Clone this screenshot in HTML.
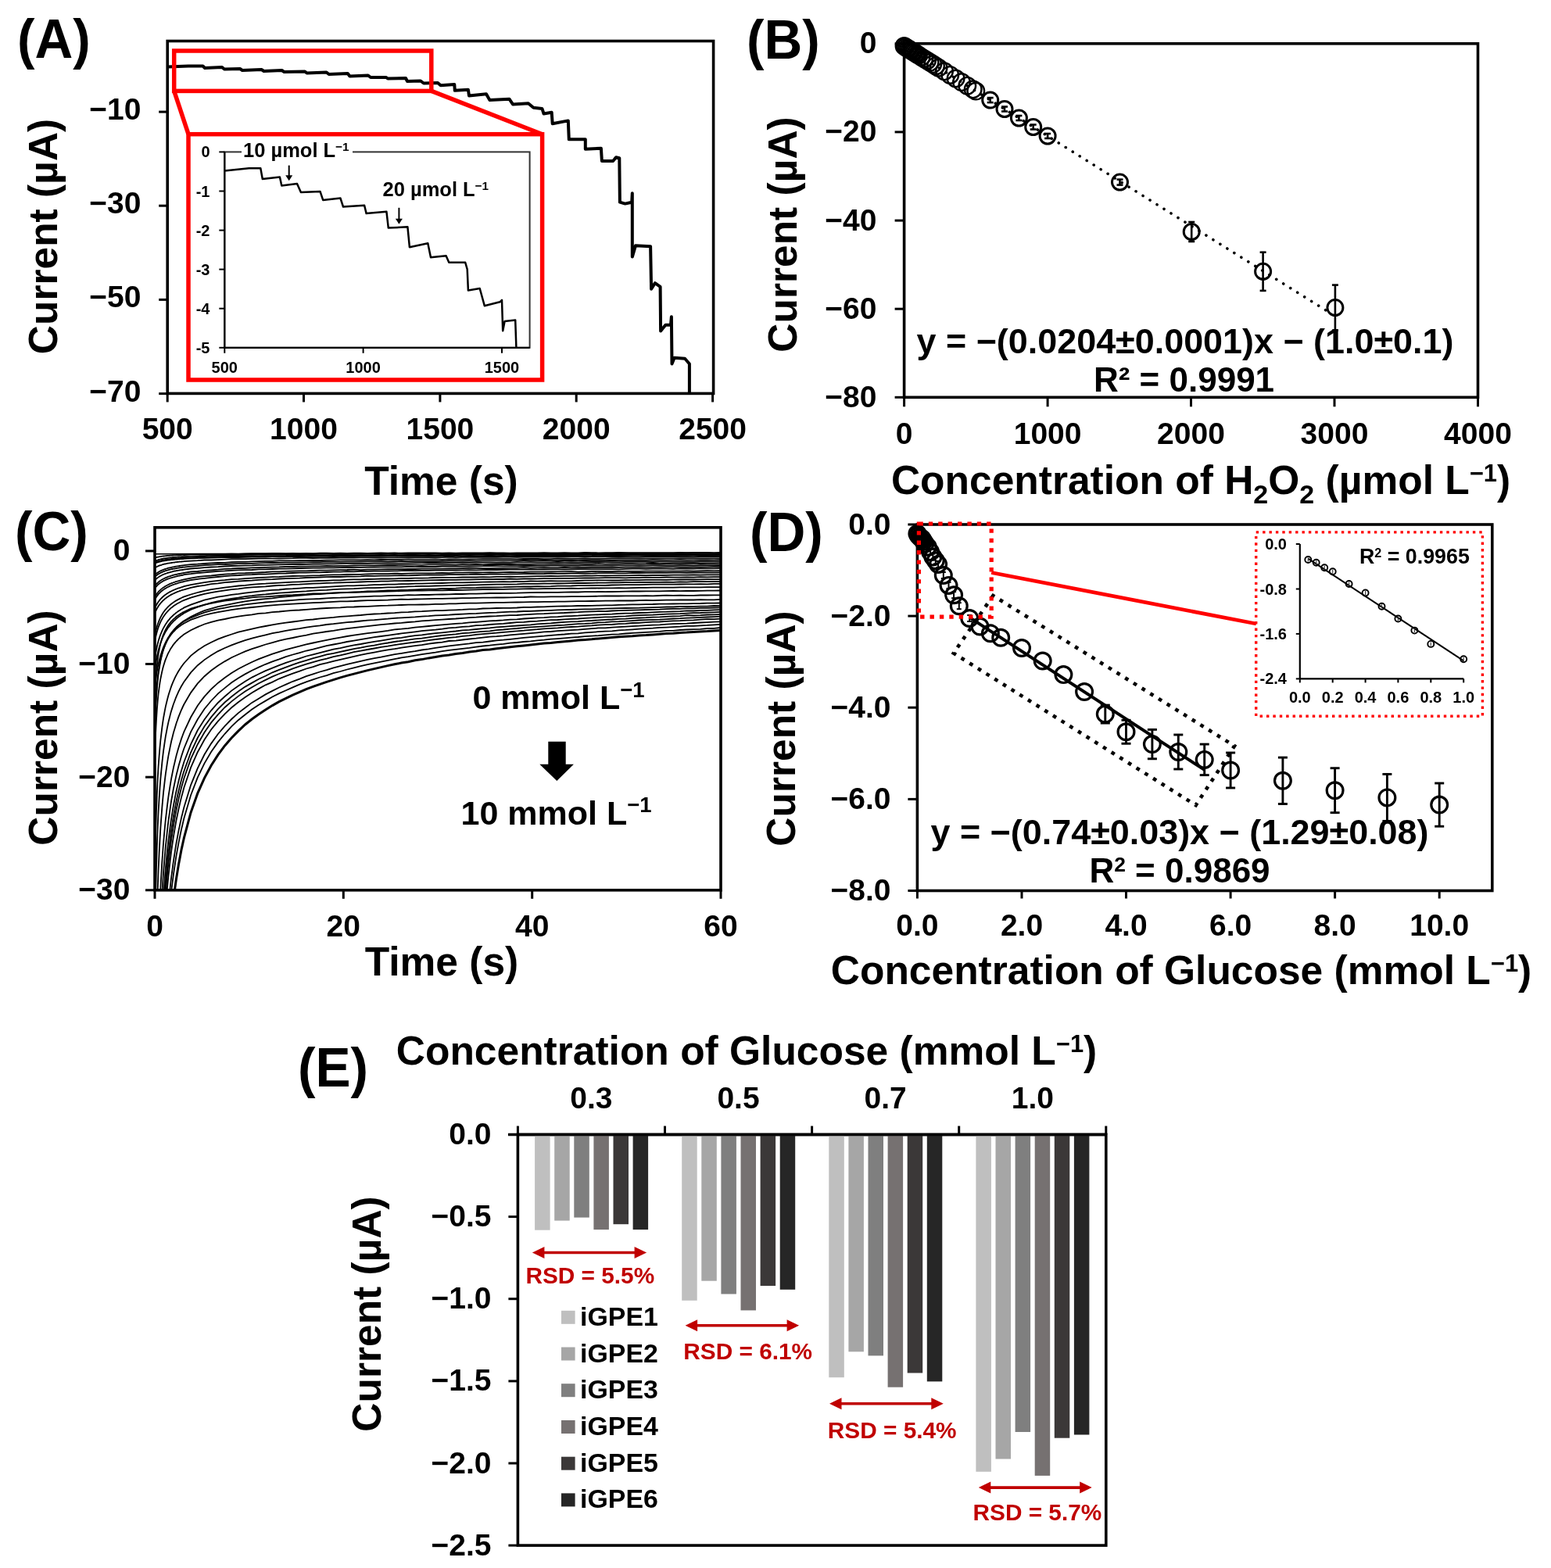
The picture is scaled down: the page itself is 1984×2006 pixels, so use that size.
<!DOCTYPE html>
<html><head><meta charset="utf-8"><title>Figure</title>
<style>html,body{margin:0;padding:0;background:#fff;}svg{display:block;}</style></head>
<body><svg width="1984" height="2006" viewBox="0 0 1984 2006" font-family="Liberation Sans, Arial, sans-serif" font-weight="bold">
<rect x="0" y="0" width="1984" height="2006" fill="#fff"/>
<rect x="214.2" y="52.5" width="698.4" height="450.9" fill="none" stroke="#000" stroke-width="3.6" />
<line x1="203.2" y1="143.1" x2="214.2" y2="143.1" stroke="#000" stroke-width="3" />
<text x="180.5" y="153.1" font-size="39" text-anchor="end" fill="#000" >−10</text>
<line x1="203.2" y1="263.2" x2="214.2" y2="263.2" stroke="#000" stroke-width="3" />
<text x="180.5" y="273.2" font-size="39" text-anchor="end" fill="#000" >−30</text>
<line x1="203.2" y1="383.4" x2="214.2" y2="383.4" stroke="#000" stroke-width="3" />
<text x="180.5" y="393.4" font-size="39" text-anchor="end" fill="#000" >−50</text>
<line x1="203.2" y1="503.6" x2="214.2" y2="503.6" stroke="#000" stroke-width="3" />
<text x="180.5" y="513.6" font-size="39" text-anchor="end" fill="#000" >−70</text>
<line x1="214.2" y1="503.4" x2="214.2" y2="514.4" stroke="#000" stroke-width="3" />
<text x="214.2" y="562.2" font-size="39" text-anchor="middle" fill="#000" >500</text>
<line x1="388.5" y1="503.4" x2="388.5" y2="514.4" stroke="#000" stroke-width="3" />
<text x="388.5" y="562.2" font-size="39" text-anchor="middle" fill="#000" >1000</text>
<line x1="562.9" y1="503.4" x2="562.9" y2="514.4" stroke="#000" stroke-width="3" />
<text x="562.9" y="562.2" font-size="39" text-anchor="middle" fill="#000" >1500</text>
<line x1="737.2" y1="503.4" x2="737.2" y2="514.4" stroke="#000" stroke-width="3" />
<text x="737.2" y="562.2" font-size="39" text-anchor="middle" fill="#000" >2000</text>
<line x1="911.6" y1="503.4" x2="911.6" y2="514.4" stroke="#000" stroke-width="3" />
<text x="911.6" y="562.2" font-size="39" text-anchor="middle" fill="#000" >2500</text>
<text x="564.5" y="633.0" font-size="51.5" text-anchor="middle" fill="#000" >Time (s)</text>
<text transform="translate(72.5,302.5) rotate(-90)" x="0" y="0" font-size="51.5" text-anchor="middle">Current (µA)</text>
<text transform="translate(22.0,73.5) scale(0.965,1)" x="0" y="0" font-size="70">(A)</text>
<rect x="1156.6" y="55.8" width="733.9" height="452.5" fill="none" stroke="#000" stroke-width="3.6" />
<line x1="1144.6" y1="55.8" x2="1156.6" y2="55.8" stroke="#000" stroke-width="3" />
<text x="1121.5" y="68.3" font-size="39" text-anchor="end" fill="#000" >0</text>
<line x1="1144.6" y1="168.9" x2="1156.6" y2="168.9" stroke="#000" stroke-width="3" />
<text x="1121.5" y="181.4" font-size="39" text-anchor="end" fill="#000" >−20</text>
<line x1="1144.6" y1="282.1" x2="1156.6" y2="282.1" stroke="#000" stroke-width="3" />
<text x="1121.5" y="294.6" font-size="39" text-anchor="end" fill="#000" >−40</text>
<line x1="1144.6" y1="395.2" x2="1156.6" y2="395.2" stroke="#000" stroke-width="3" />
<text x="1121.5" y="407.7" font-size="39" text-anchor="end" fill="#000" >−60</text>
<line x1="1144.6" y1="508.3" x2="1156.6" y2="508.3" stroke="#000" stroke-width="3" />
<text x="1121.5" y="520.8" font-size="39" text-anchor="end" fill="#000" >−80</text>
<line x1="1156.6" y1="508.3" x2="1156.6" y2="520.3" stroke="#000" stroke-width="3" />
<text x="1156.6" y="568.3" font-size="39" text-anchor="middle" fill="#000" >0</text>
<line x1="1340.1" y1="508.3" x2="1340.1" y2="520.3" stroke="#000" stroke-width="3" />
<text x="1340.1" y="568.3" font-size="39" text-anchor="middle" fill="#000" >1000</text>
<line x1="1523.5" y1="508.3" x2="1523.5" y2="520.3" stroke="#000" stroke-width="3" />
<text x="1523.5" y="568.3" font-size="39" text-anchor="middle" fill="#000" >2000</text>
<line x1="1707.0" y1="508.3" x2="1707.0" y2="520.3" stroke="#000" stroke-width="3" />
<text x="1707.0" y="568.3" font-size="39" text-anchor="middle" fill="#000" >3000</text>
<line x1="1890.5" y1="508.3" x2="1890.5" y2="520.3" stroke="#000" stroke-width="3" />
<text x="1890.5" y="568.3" font-size="39" text-anchor="middle" fill="#000" >4000</text>
<text x="1536.0" y="631.8" font-size="51.5" text-anchor="middle" fill="#000" >Concentration of H<tspan dy="12" font-size="34">2</tspan><tspan dy="-12">O</tspan><tspan dy="12" font-size="34">2</tspan><tspan dy="-12"> (µmol L</tspan><tspan dy="-16.0" font-size="30.9">−1</tspan><tspan dy="16.0">)</tspan></text>
<text transform="translate(1019.0,300.0) rotate(-90)" x="0" y="0" font-size="51.5" text-anchor="middle">Current (µA)</text>
<text transform="translate(955.0,74.5) scale(0.965,1)" x="0" y="0" font-size="70">(B)</text>
<rect x="198.0" y="674.8" width="724.0" height="464.0" fill="none" stroke="#000" stroke-width="3.6" />
<line x1="186.0" y1="704.9" x2="198.0" y2="704.9" stroke="#000" stroke-width="3" />
<text x="166.5" y="717.4" font-size="39" text-anchor="end" fill="#000" >0</text>
<line x1="186.0" y1="849.5" x2="198.0" y2="849.5" stroke="#000" stroke-width="3" />
<text x="166.5" y="862.0" font-size="39" text-anchor="end" fill="#000" >−10</text>
<line x1="186.0" y1="994.2" x2="198.0" y2="994.2" stroke="#000" stroke-width="3" />
<text x="166.5" y="1006.7" font-size="39" text-anchor="end" fill="#000" >−20</text>
<line x1="186.0" y1="1138.8" x2="198.0" y2="1138.8" stroke="#000" stroke-width="3" />
<text x="166.5" y="1151.3" font-size="39" text-anchor="end" fill="#000" >−30</text>
<line x1="198.0" y1="1138.8" x2="198.0" y2="1149.8" stroke="#000" stroke-width="3" />
<text x="198.0" y="1197.5" font-size="39" text-anchor="middle" fill="#000" >0</text>
<line x1="439.3" y1="1138.8" x2="439.3" y2="1149.8" stroke="#000" stroke-width="3" />
<text x="439.3" y="1197.5" font-size="39" text-anchor="middle" fill="#000" >20</text>
<line x1="680.7" y1="1138.8" x2="680.7" y2="1149.8" stroke="#000" stroke-width="3" />
<text x="680.7" y="1197.5" font-size="39" text-anchor="middle" fill="#000" >40</text>
<line x1="922.0" y1="1138.8" x2="922.0" y2="1149.8" stroke="#000" stroke-width="3" />
<text x="922.0" y="1197.5" font-size="39" text-anchor="middle" fill="#000" >60</text>
<text x="565.0" y="1248.2" font-size="51.5" text-anchor="middle" fill="#000" >Time (s)</text>
<text transform="translate(73.0,931.0) rotate(-90)" x="0" y="0" font-size="51.5" text-anchor="middle">Current (µA)</text>
<text transform="translate(19.0,704.0) scale(0.965,1)" x="0" y="0" font-size="70">(C)</text>
<rect x="1173.4" y="671.0" width="735.4" height="468.5" fill="none" stroke="#000" stroke-width="3.6" />
<line x1="1161.4" y1="671.0" x2="1173.4" y2="671.0" stroke="#000" stroke-width="3" />
<text x="1139.5" y="683.5" font-size="39" text-anchor="end" fill="#000" >0.0</text>
<line x1="1161.4" y1="788.1" x2="1173.4" y2="788.1" stroke="#000" stroke-width="3" />
<text x="1139.5" y="800.6" font-size="39" text-anchor="end" fill="#000" >−2.0</text>
<line x1="1161.4" y1="905.2" x2="1173.4" y2="905.2" stroke="#000" stroke-width="3" />
<text x="1139.5" y="917.8" font-size="39" text-anchor="end" fill="#000" >−4.0</text>
<line x1="1161.4" y1="1022.4" x2="1173.4" y2="1022.4" stroke="#000" stroke-width="3" />
<text x="1139.5" y="1034.9" font-size="39" text-anchor="end" fill="#000" >−6.0</text>
<line x1="1161.4" y1="1139.5" x2="1173.4" y2="1139.5" stroke="#000" stroke-width="3" />
<text x="1139.5" y="1152.0" font-size="39" text-anchor="end" fill="#000" >−8.0</text>
<line x1="1173.4" y1="1139.5" x2="1173.4" y2="1149.5" stroke="#000" stroke-width="3" />
<text x="1173.4" y="1196.5" font-size="39" text-anchor="middle" fill="#000" >0.0</text>
<line x1="1307.0" y1="1139.5" x2="1307.0" y2="1149.5" stroke="#000" stroke-width="3" />
<text x="1307.0" y="1196.5" font-size="39" text-anchor="middle" fill="#000" >2.0</text>
<line x1="1440.5" y1="1139.5" x2="1440.5" y2="1149.5" stroke="#000" stroke-width="3" />
<text x="1440.5" y="1196.5" font-size="39" text-anchor="middle" fill="#000" >4.0</text>
<line x1="1574.1" y1="1139.5" x2="1574.1" y2="1149.5" stroke="#000" stroke-width="3" />
<text x="1574.1" y="1196.5" font-size="39" text-anchor="middle" fill="#000" >6.0</text>
<line x1="1707.6" y1="1139.5" x2="1707.6" y2="1149.5" stroke="#000" stroke-width="3" />
<text x="1707.6" y="1196.5" font-size="39" text-anchor="middle" fill="#000" >8.0</text>
<line x1="1841.2" y1="1139.5" x2="1841.2" y2="1149.5" stroke="#000" stroke-width="3" />
<text x="1841.2" y="1196.5" font-size="39" text-anchor="middle" fill="#000" >10.0</text>
<text x="1511.0" y="1259.0" font-size="51.5" text-anchor="middle" fill="#000" >Concentration of Glucose (mmol L<tspan dy="-16.0" font-size="30.9">−1</tspan><tspan dy="16.0">)</tspan></text>
<text transform="translate(1017.0,932.0) rotate(-90)" x="0" y="0" font-size="51.5" text-anchor="middle">Current (µA)</text>
<text transform="translate(959.0,705.0) scale(0.965,1)" x="0" y="0" font-size="70">(D)</text>
<rect x="662.4" y="1451.5" width="752.4" height="525.6" fill="none" stroke="#000" stroke-width="3.6" />
<line x1="650.4" y1="1451.5" x2="662.4" y2="1451.5" stroke="#000" stroke-width="3" />
<text x="628.5" y="1464.0" font-size="39" text-anchor="end" fill="#000" >0.0</text>
<line x1="650.4" y1="1556.6" x2="662.4" y2="1556.6" stroke="#000" stroke-width="3" />
<text x="628.5" y="1569.1" font-size="39" text-anchor="end" fill="#000" >−0.5</text>
<line x1="650.4" y1="1661.7" x2="662.4" y2="1661.7" stroke="#000" stroke-width="3" />
<text x="628.5" y="1674.2" font-size="39" text-anchor="end" fill="#000" >−1.0</text>
<line x1="650.4" y1="1766.9" x2="662.4" y2="1766.9" stroke="#000" stroke-width="3" />
<text x="628.5" y="1779.4" font-size="39" text-anchor="end" fill="#000" >−1.5</text>
<line x1="650.4" y1="1872.0" x2="662.4" y2="1872.0" stroke="#000" stroke-width="3" />
<text x="628.5" y="1884.5" font-size="39" text-anchor="end" fill="#000" >−2.0</text>
<line x1="650.4" y1="1977.1" x2="662.4" y2="1977.1" stroke="#000" stroke-width="3" />
<text x="628.5" y="1989.6" font-size="39" text-anchor="end" fill="#000" >−2.5</text>
<line x1="662.4" y1="1451.5" x2="662.4" y2="1440.5" stroke="#000" stroke-width="3" />
<line x1="850.5" y1="1451.5" x2="850.5" y2="1440.5" stroke="#000" stroke-width="3" />
<line x1="1038.6" y1="1451.5" x2="1038.6" y2="1440.5" stroke="#000" stroke-width="3" />
<line x1="1226.7" y1="1451.5" x2="1226.7" y2="1440.5" stroke="#000" stroke-width="3" />
<line x1="1414.8" y1="1451.5" x2="1414.8" y2="1440.5" stroke="#000" stroke-width="3" />
<text x="756.4" y="1417.5" font-size="39" text-anchor="middle" fill="#000" >0.3</text>
<text x="944.5" y="1417.5" font-size="39" text-anchor="middle" fill="#000" >0.5</text>
<text x="1132.7" y="1417.5" font-size="39" text-anchor="middle" fill="#000" >0.7</text>
<text x="1320.8" y="1417.5" font-size="39" text-anchor="middle" fill="#000" >1.0</text>
<text x="955.0" y="1362.0" font-size="51.5" text-anchor="middle" fill="#000" >Concentration of Glucose (mmol L<tspan dy="-16.0" font-size="30.9">−1</tspan><tspan dy="16.0">)</tspan></text>
<text transform="translate(487.0,1681.0) rotate(-90)" x="0" y="0" font-size="51.5" text-anchor="middle">Current (µA)</text>
<text transform="translate(381.0,1389.5) scale(0.965,1)" x="0" y="0" font-size="70">(E)</text>
<path d="M214.5,85.5 L241.0,84.5 L259.5,84.5 L262.0,87.0 L284.0,86.0 L287.0,88.5 L307.0,88.0 L310.0,90.0 L334.5,89.0 L337.5,91.0 L360.5,90.0 L363.5,92.0 L390.0,91.5 L392.5,93.5 L417.6,92.5 L420.7,95.0 L444.8,94.0 L447.4,97.5 L470.9,96.5 L474.1,99.0 L494.0,99.0 L496.0,100.5 L519.0,100.0 L521.0,104.0 L538.0,103.5 L542.0,106.5 L560.0,106.0 L563.7,109.2 L581.3,108.1 L581.8,115.8 L598.9,114.7 L600.0,122.4 L622.0,120.2 L626.4,127.9 L651.6,126.8 L656.0,133.4 L675.8,132.3 L682.4,137.8 L693.4,138.9 L695.6,145.5 L705.7,143.8 L706.7,158.2 L726.8,154.4 L727.8,178.3 L748.8,178.3 L748.8,190.7 L768.9,189.8 L769.9,206.0 L784.2,206.0 L788.0,201.3 L792.3,202.2 L792.9,258.7 L799.6,260.6 L808.2,258.7 L808.8,247.2 L808.8,328.6 L813.0,314.2 L832.1,315.2 L833.1,369.8 L837.9,362.1 L844.6,366.9 L845.1,423.4 L851.3,415.7 L858.0,415.7 L858.9,405.2 L859.5,465.5 L862.7,457.8 L876.1,458.8 L881.9,465.5 L881.9,503.5" fill="none" stroke="#000" stroke-width="4" stroke-linejoin="round" />
<rect x="222.7" y="65.0" width="329.1" height="51.4" fill="none" stroke="#ff0000" stroke-width="5.5" />
<path d="M222.7,116.4 L241.0,171.7" fill="none" stroke="#ff0000" stroke-width="5.5" stroke-linejoin="round" />
<path d="M551.8,116.4 L693.6,171.7" fill="none" stroke="#ff0000" stroke-width="5.5" stroke-linejoin="round" />
<rect x="241.0" y="171.7" width="452.6" height="314.3" fill="#fff" stroke="#ff0000" stroke-width="5.5" />
<rect x="287.3" y="194.4" width="390.3" height="250.4" fill="none" stroke="#333" stroke-width="2"/>
<line x1="287.3" y1="194.4" x2="287.3" y2="444.8" stroke="#000" stroke-width="2.2" />
<line x1="287.3" y1="444.8" x2="677.6" y2="444.8" stroke="#000" stroke-width="2.2" />
<line x1="280.3" y1="194.4" x2="287.3" y2="194.4" stroke="#000" stroke-width="2" />
<text x="268.5" y="201.4" font-size="20" text-anchor="end" fill="#000" >0</text>
<line x1="280.3" y1="244.5" x2="287.3" y2="244.5" stroke="#000" stroke-width="2" />
<text x="268.5" y="251.5" font-size="20" text-anchor="end" fill="#000" >-1</text>
<line x1="280.3" y1="294.6" x2="287.3" y2="294.6" stroke="#000" stroke-width="2" />
<text x="268.5" y="301.6" font-size="20" text-anchor="end" fill="#000" >-2</text>
<line x1="280.3" y1="344.6" x2="287.3" y2="344.6" stroke="#000" stroke-width="2" />
<text x="268.5" y="351.6" font-size="20" text-anchor="end" fill="#000" >-3</text>
<line x1="280.3" y1="394.7" x2="287.3" y2="394.7" stroke="#000" stroke-width="2" />
<text x="268.5" y="401.7" font-size="20" text-anchor="end" fill="#000" >-4</text>
<line x1="280.3" y1="444.8" x2="287.3" y2="444.8" stroke="#000" stroke-width="2" />
<text x="268.5" y="451.8" font-size="20" text-anchor="end" fill="#000" >-5</text>
<line x1="287.3" y1="444.8" x2="287.3" y2="451.8" stroke="#000" stroke-width="2" />
<text x="287.3" y="476.5" font-size="20" text-anchor="middle" fill="#000" >500</text>
<line x1="464.6" y1="444.8" x2="464.6" y2="451.8" stroke="#000" stroke-width="2" />
<text x="464.6" y="476.5" font-size="20" text-anchor="middle" fill="#000" >1000</text>
<line x1="642.0" y1="444.8" x2="642.0" y2="451.8" stroke="#000" stroke-width="2" />
<text x="642.0" y="476.5" font-size="20" text-anchor="middle" fill="#000" >1500</text>
<rect x="309" y="178" width="142" height="26" fill="#fff"/>
<text x="311.0" y="200.6" font-size="25.5" text-anchor="start" fill="#000" >10 µmol L<tspan dy="-7.9" font-size="15.3">−1</tspan></text>
<text x="489.5" y="251.0" font-size="25.5" text-anchor="start" fill="#000" >20 µmol L<tspan dy="-7.9" font-size="15.3">−1</tspan></text>
<line x1="369.7" y1="211.6" x2="369.7" y2="226.3" stroke="#000" stroke-width="2" />
<path d="M365.2,224.3 L374.2,224.3 L369.7,231.3 Z" fill="#000"/>
<line x1="510.4" y1="265.8" x2="510.4" y2="281.7" stroke="#000" stroke-width="2" />
<path d="M505.9,279.7 L514.9,279.7 L510.4,286.7 Z" fill="#000"/>
<path d="M287.3,218.5 L318.5,215.3 L333.3,215.3 L335.8,228.9 L357.9,226.4 L360.3,237.5 L380.0,235.0 L384.9,246.1 L409.5,244.9 L413.2,255.9 L435.4,253.5 L439.0,264.5 L466.1,262.8 L468.6,273.1 L494.4,270.7 L496.8,291.6 L521.4,290.3 L523.9,316.2 L547.3,311.3 L551.0,329.2 L570.6,327.2 L574.3,335.8 L595.2,335.8 L597.7,344.5 L598.9,371.5 L613.7,369.0 L619.8,391.2 L639.5,386.3 L642.0,383.8 L643.2,423.2 L645.6,410.9 L659.2,409.6 L660.4,444.8" fill="none" stroke="#000" stroke-width="2.5" stroke-linejoin="round" />
<line x1="1156.6" y1="59.1" x2="1697" y2="397.6" stroke="#000" stroke-width="3.6" stroke-dasharray="0.1 10.5" stroke-linecap="round"/>
<circle cx="1156.6" cy="59.1" r="10.8" fill="none" stroke="#000" stroke-width="2.4"/>
<circle cx="1158.4" cy="60.2" r="10.8" fill="none" stroke="#000" stroke-width="2.4"/>
<circle cx="1160.3" cy="61.4" r="10.8" fill="none" stroke="#000" stroke-width="2.4"/>
<circle cx="1162.1" cy="62.5" r="10.8" fill="none" stroke="#000" stroke-width="2.4"/>
<circle cx="1163.9" cy="63.7" r="10.8" fill="none" stroke="#000" stroke-width="2.4"/>
<circle cx="1165.8" cy="64.8" r="10.8" fill="none" stroke="#000" stroke-width="2.4"/>
<circle cx="1167.6" cy="66.0" r="10.8" fill="none" stroke="#000" stroke-width="2.4"/>
<circle cx="1169.4" cy="67.1" r="10.8" fill="none" stroke="#000" stroke-width="2.4"/>
<circle cx="1171.3" cy="68.3" r="10.8" fill="none" stroke="#000" stroke-width="2.4"/>
<circle cx="1173.1" cy="69.4" r="10.8" fill="none" stroke="#000" stroke-width="2.4"/>
<circle cx="1174.9" cy="70.6" r="10.8" fill="none" stroke="#000" stroke-width="2.4"/>
<circle cx="1178.6" cy="72.9" r="10.8" fill="none" stroke="#000" stroke-width="2.4"/>
<circle cx="1182.3" cy="75.2" r="10.8" fill="none" stroke="#000" stroke-width="2.4"/>
<circle cx="1186.0" cy="77.5" r="10.8" fill="none" stroke="#000" stroke-width="2.4"/>
<circle cx="1189.6" cy="79.8" r="10.8" fill="none" stroke="#000" stroke-width="2.4"/>
<circle cx="1193.3" cy="82.1" r="10.8" fill="none" stroke="#000" stroke-width="2.4"/>
<circle cx="1197.0" cy="84.4" r="10.8" fill="none" stroke="#000" stroke-width="2.4"/>
<circle cx="1200.6" cy="86.7" r="10.8" fill="none" stroke="#000" stroke-width="2.4"/>
<circle cx="1208.0" cy="91.3" r="10.8" fill="none" stroke="#000" stroke-width="2.4"/>
<circle cx="1215.3" cy="95.9" r="10.8" fill="none" stroke="#000" stroke-width="2.4"/>
<circle cx="1222.6" cy="100.5" r="10.8" fill="none" stroke="#000" stroke-width="2.4"/>
<circle cx="1230.0" cy="105.1" r="10.8" fill="none" stroke="#000" stroke-width="2.4"/>
<circle cx="1237.3" cy="109.7" r="10.8" fill="none" stroke="#000" stroke-width="2.4"/>
<circle cx="1244.7" cy="114.3" r="10.8" fill="none" stroke="#000" stroke-width="2.4"/>
<circle cx="1248.3" cy="116.6" r="10.8" fill="none" stroke="#000" stroke-width="2.4"/>
<circle cx="1266.7" cy="128.1" r="10" fill="none" stroke="#000" stroke-width="3"/>
<line x1="1266.7" y1="125.1" x2="1266.7" y2="131.1" stroke="#000" stroke-width="2.6" />
<line x1="1262.7" y1="125.1" x2="1270.7" y2="125.1" stroke="#000" stroke-width="2.6" />
<line x1="1262.7" y1="131.1" x2="1270.7" y2="131.1" stroke="#000" stroke-width="2.6" />
<circle cx="1285.0" cy="139.5" r="10" fill="none" stroke="#000" stroke-width="3"/>
<line x1="1285.0" y1="136.5" x2="1285.0" y2="142.5" stroke="#000" stroke-width="2.6" />
<line x1="1281.0" y1="136.5" x2="1289.0" y2="136.5" stroke="#000" stroke-width="2.6" />
<line x1="1281.0" y1="142.5" x2="1289.0" y2="142.5" stroke="#000" stroke-width="2.6" />
<circle cx="1303.4" cy="151.0" r="10" fill="none" stroke="#000" stroke-width="3"/>
<line x1="1303.4" y1="148.0" x2="1303.4" y2="154.0" stroke="#000" stroke-width="2.6" />
<line x1="1299.4" y1="148.0" x2="1307.4" y2="148.0" stroke="#000" stroke-width="2.6" />
<line x1="1299.4" y1="154.0" x2="1307.4" y2="154.0" stroke="#000" stroke-width="2.6" />
<circle cx="1321.7" cy="162.5" r="10" fill="none" stroke="#000" stroke-width="3"/>
<line x1="1321.7" y1="159.5" x2="1321.7" y2="165.5" stroke="#000" stroke-width="2.6" />
<line x1="1317.7" y1="159.5" x2="1325.7" y2="159.5" stroke="#000" stroke-width="2.6" />
<line x1="1317.7" y1="165.5" x2="1325.7" y2="165.5" stroke="#000" stroke-width="2.6" />
<circle cx="1340.1" cy="174.0" r="10" fill="none" stroke="#000" stroke-width="3"/>
<line x1="1340.1" y1="171.0" x2="1340.1" y2="177.0" stroke="#000" stroke-width="2.6" />
<line x1="1336.1" y1="171.0" x2="1344.1" y2="171.0" stroke="#000" stroke-width="2.6" />
<line x1="1336.1" y1="177.0" x2="1344.1" y2="177.0" stroke="#000" stroke-width="2.6" />
<circle cx="1432.5" cy="233.1" r="10" fill="none" stroke="#000" stroke-width="3"/>
<line x1="1432.5" y1="229.6" x2="1432.5" y2="236.6" stroke="#000" stroke-width="2.6" />
<line x1="1428.5" y1="229.6" x2="1436.5" y2="229.6" stroke="#000" stroke-width="2.6" />
<line x1="1428.5" y1="236.6" x2="1436.5" y2="236.6" stroke="#000" stroke-width="2.6" />
<circle cx="1524.2" cy="296.5" r="10" fill="none" stroke="#000" stroke-width="3"/>
<line x1="1524.2" y1="284.0" x2="1524.2" y2="309.0" stroke="#000" stroke-width="2.6" />
<line x1="1520.2" y1="284.0" x2="1528.2" y2="284.0" stroke="#000" stroke-width="2.6" />
<line x1="1520.2" y1="309.0" x2="1528.2" y2="309.0" stroke="#000" stroke-width="2.6" />
<circle cx="1615.6" cy="347.3" r="10" fill="none" stroke="#000" stroke-width="3"/>
<line x1="1615.6" y1="322.7" x2="1615.6" y2="371.9" stroke="#000" stroke-width="2.6" />
<line x1="1611.6" y1="322.7" x2="1619.6" y2="322.7" stroke="#000" stroke-width="2.6" />
<line x1="1611.6" y1="371.9" x2="1619.6" y2="371.9" stroke="#000" stroke-width="2.6" />
<circle cx="1707.9" cy="393.6" r="10" fill="none" stroke="#000" stroke-width="3"/>
<line x1="1707.9" y1="364.6" x2="1707.9" y2="422.6" stroke="#000" stroke-width="2.6" />
<line x1="1703.9" y1="364.6" x2="1711.9" y2="364.6" stroke="#000" stroke-width="2.6" />
<line x1="1703.9" y1="422.6" x2="1711.9" y2="422.6" stroke="#000" stroke-width="2.6" />
<text x="1516.0" y="451.6" font-size="44.9" text-anchor="middle" fill="#000" >y = −(0.0204±0.0001)x − (1.0±0.1)</text>
<text x="1514.5" y="501.3" font-size="44" text-anchor="middle" fill="#000" >R² = 0.9991</text>
<clipPath id="cclip"><rect x="198" y="674.8" width="724" height="464"/></clipPath>
<g clip-path="url(#cclip)" fill="none" stroke="#000" stroke-width="1.8">
<path d="M198,708.7 L922,707.8" stroke-width="1.6"/>
<path d="M198.0,713.6 L198.9,713.3 L199.9,713.1 L200.8,712.8 L201.7,712.6 L202.6,712.5 L203.6,712.3 L204.5,712.1 L205.4,712.0 L206.4,711.9 L207.3,711.7 L208.2,711.6 L209.1,711.5 L210.1,711.4 L211.0,711.3 L211.9,711.2 L212.9,711.1 L213.8,711.0 L214.7,710.9 L215.6,710.9 L216.6,710.8 L217.5,710.7 L218.4,710.7 L219.3,710.6 L220.3,710.5 L221.2,710.5 L222.1,710.4 L223.1,710.4 L224.0,710.3 L224.9,710.3 L225.8,710.2 L226.8,710.2 L227.7,710.1 L228.6,710.1 L229.6,710.0 L230.5,710.0 L231.4,710.0 L232.3,709.9 L233.3,709.9 L234.2,709.8 L235.4,710.0 L244.1,709.4 L252.8,709.3 L261.5,709.3 L270.2,709.0 L278.9,708.9 L287.6,708.8 L296.2,708.6 L304.9,708.8 L313.6,708.4 L322.3,708.2 L331.0,708.2 L339.7,708.1 L348.4,708.0 L357.1,707.9 L365.8,708.2 L374.5,707.9 L383.2,708.2 L391.8,708.0 L400.5,708.1 L409.2,707.7 L417.9,707.7 L426.6,707.8 L435.3,707.6 L444.0,707.8 L452.7,707.7 L461.4,707.7 L470.1,707.8 L478.8,707.6 L487.4,707.4 L496.1,707.7 L504.8,707.5 L513.5,707.6 L522.2,707.3 L530.9,707.5 L539.6,707.4 L548.3,707.4 L557.0,707.4 L565.7,707.6 L574.4,707.3 L583.0,707.6 L591.7,707.4 L600.4,707.3 L609.1,707.5 L617.8,707.3 L626.5,707.2 L635.2,707.3 L643.9,707.4 L652.6,707.7 L661.3,707.4 L670.0,707.4 L678.7,707.3 L687.3,707.4 L696.0,707.2 L704.7,707.3 L713.4,707.3 L722.1,707.2 L730.8,707.3 L739.5,707.3 L748.2,707.0 L756.9,707.1 L765.6,707.3 L774.3,707.2 L782.9,707.1 L791.6,707.0 L800.3,707.1 L809.0,707.2 L817.7,707.2 L826.4,707.1 L835.1,707.1 L843.8,707.2 L852.5,707.1 L861.2,707.2 L869.9,707.0 L878.5,707.2 L887.2,707.0 L895.9,707.0 L904.6,707.0 L913.3,707.2 L922.0,706.9"/>
<path d="M198.0,717.9 L198.9,717.5 L199.9,717.1 L200.8,716.8 L201.7,716.5 L202.6,716.2 L203.6,715.9 L204.5,715.7 L205.4,715.4 L206.4,715.2 L207.3,715.0 L208.2,714.9 L209.1,714.7 L210.1,714.5 L211.0,714.4 L211.9,714.2 L212.9,714.1 L213.8,713.9 L214.7,713.8 L215.6,713.7 L216.6,713.6 L217.5,713.5 L218.4,713.4 L219.3,713.3 L220.3,713.2 L221.2,713.1 L222.1,713.0 L223.1,712.9 L224.0,712.8 L224.9,712.8 L225.8,712.7 L226.8,712.6 L227.7,712.5 L228.6,712.5 L229.6,712.4 L230.5,712.3 L231.4,712.3 L232.3,712.2 L233.3,712.2 L234.2,712.1 L235.4,712.1 L244.1,711.6 L252.8,711.3 L261.5,711.1 L270.2,710.4 L278.9,710.5 L287.6,710.5 L296.2,710.0 L304.9,710.1 L313.6,709.8 L322.3,709.7 L331.0,709.7 L339.7,709.6 L348.4,709.5 L357.1,709.4 L365.8,709.5 L374.5,709.4 L383.2,709.2 L391.8,709.0 L400.5,709.0 L409.2,708.8 L417.9,708.9 L426.6,709.0 L435.3,708.9 L444.0,709.1 L452.7,708.9 L461.4,708.9 L470.1,708.7 L478.8,708.6 L487.4,708.7 L496.1,708.7 L504.8,708.7 L513.5,708.5 L522.2,708.5 L530.9,708.4 L539.6,708.5 L548.3,708.2 L557.0,708.3 L565.7,708.4 L574.4,708.4 L583.0,708.4 L591.7,708.3 L600.4,708.3 L609.1,708.2 L617.8,708.2 L626.5,708.1 L635.2,708.1 L643.9,708.2 L652.6,708.1 L661.3,708.2 L670.0,708.2 L678.7,707.9 L687.3,708.2 L696.0,707.9 L704.7,708.1 L713.4,708.0 L722.1,707.9 L730.8,708.0 L739.5,708.0 L748.2,708.0 L756.9,708.0 L765.6,708.0 L774.3,708.0 L782.9,707.8 L791.6,708.0 L800.3,707.7 L809.0,708.2 L817.7,707.9 L826.4,707.8 L835.1,707.9 L843.8,707.8 L852.5,707.8 L861.2,707.9 L869.9,707.8 L878.5,707.5 L887.2,707.8 L895.9,707.8 L904.6,707.9 L913.3,707.8 L922.0,707.9"/>
<path d="M198.0,719.9 L198.9,719.5 L199.9,719.1 L200.8,718.7 L201.7,718.4 L202.6,718.1 L203.6,717.8 L204.5,717.6 L205.4,717.3 L206.4,717.1 L207.3,716.9 L208.2,716.7 L209.1,716.5 L210.1,716.3 L211.0,716.2 L211.9,716.0 L212.9,715.9 L213.8,715.7 L214.7,715.6 L215.6,715.5 L216.6,715.4 L217.5,715.3 L218.4,715.1 L219.3,715.0 L220.3,714.9 L221.2,714.8 L222.1,714.8 L223.1,714.7 L224.0,714.6 L224.9,714.5 L225.8,714.4 L226.8,714.3 L227.7,714.3 L228.6,714.2 L229.6,714.1 L230.5,714.1 L231.4,714.0 L232.3,713.9 L233.3,713.9 L234.2,713.8 L235.4,713.7 L244.1,713.3 L252.8,712.8 L261.5,712.7 L270.2,712.1 L278.9,711.8 L287.6,711.9 L296.2,711.7 L304.9,711.5 L313.6,711.3 L322.3,711.1 L331.0,711.3 L339.7,711.2 L348.4,711.1 L357.1,711.1 L365.8,711.0 L374.5,710.7 L383.2,710.8 L391.8,710.5 L400.5,710.5 L409.2,710.6 L417.9,710.6 L426.6,710.5 L435.3,710.2 L444.0,710.4 L452.7,710.5 L461.4,710.2 L470.1,710.2 L478.8,710.2 L487.4,709.9 L496.1,710.1 L504.8,710.0 L513.5,710.1 L522.2,710.0 L530.9,710.0 L539.6,710.2 L548.3,709.9 L557.0,710.1 L565.7,709.9 L574.4,710.0 L583.0,709.6 L591.7,709.7 L600.4,709.7 L609.1,709.6 L617.8,709.9 L626.5,710.0 L635.2,709.7 L643.9,709.6 L652.6,709.6 L661.3,709.5 L670.0,709.5 L678.7,709.8 L687.3,709.5 L696.0,709.3 L704.7,709.6 L713.4,709.8 L722.1,709.5 L730.8,709.5 L739.5,709.4 L748.2,709.6 L756.9,709.4 L765.6,709.7 L774.3,709.3 L782.9,709.2 L791.6,709.2 L800.3,709.6 L809.0,709.3 L817.7,709.7 L826.4,709.3 L835.1,709.3 L843.8,709.4 L852.5,709.3 L861.2,709.3 L869.9,709.2 L878.5,709.3 L887.2,709.3 L895.9,709.5 L904.6,709.4 L913.3,709.3 L922.0,709.2"/>
<path d="M198.0,720.8 L198.9,720.4 L199.9,720.0 L200.8,719.7 L201.7,719.4 L202.6,719.1 L203.6,718.8 L204.5,718.6 L205.4,718.3 L206.4,718.1 L207.3,717.9 L208.2,717.7 L209.1,717.6 L210.1,717.4 L211.0,717.3 L211.9,717.1 L212.9,717.0 L213.8,716.8 L214.7,716.7 L215.6,716.6 L216.6,716.5 L217.5,716.4 L218.4,716.3 L219.3,716.2 L220.3,716.1 L221.2,716.0 L222.1,715.9 L223.1,715.8 L224.0,715.7 L224.9,715.7 L225.8,715.6 L226.8,715.5 L227.7,715.4 L228.6,715.4 L229.6,715.3 L230.5,715.2 L231.4,715.2 L232.3,715.1 L233.3,715.1 L234.2,715.0 L235.4,714.9 L244.1,714.4 L252.8,714.0 L261.5,713.9 L270.2,713.6 L278.9,713.3 L287.6,713.0 L296.2,713.0 L304.9,713.0 L313.6,712.8 L322.3,712.7 L331.0,712.6 L339.7,712.4 L348.4,712.2 L357.1,712.2 L365.8,712.1 L374.5,712.2 L383.2,712.0 L391.8,712.1 L400.5,711.9 L409.2,711.8 L417.9,711.9 L426.6,712.0 L435.3,711.8 L444.0,711.8 L452.7,711.8 L461.4,711.7 L470.1,711.5 L478.8,711.4 L487.4,711.6 L496.1,711.4 L504.8,711.3 L513.5,711.6 L522.2,711.4 L530.9,711.4 L539.6,711.3 L548.3,711.5 L557.0,711.3 L565.7,711.1 L574.4,711.1 L583.0,711.0 L591.7,711.2 L600.4,711.0 L609.1,711.1 L617.8,711.3 L626.5,711.0 L635.2,711.1 L643.9,711.0 L652.6,711.1 L661.3,710.9 L670.0,711.0 L678.7,711.0 L687.3,710.9 L696.0,711.0 L704.7,711.0 L713.4,710.8 L722.1,711.0 L730.8,711.0 L739.5,711.0 L748.2,711.1 L756.9,711.0 L765.6,710.7 L774.3,711.0 L782.9,710.8 L791.6,711.0 L800.3,710.9 L809.0,710.6 L817.7,710.7 L826.4,710.9 L835.1,710.8 L843.8,710.9 L852.5,710.9 L861.2,710.9 L869.9,710.8 L878.5,710.7 L887.2,710.7 L895.9,710.7 L904.6,710.7 L913.3,710.9 L922.0,710.7"/>
<path d="M198.0,726.6 L198.9,726.0 L199.9,725.4 L200.8,725.0 L201.7,724.5 L202.6,724.1 L203.6,723.7 L204.5,723.4 L205.4,723.1 L206.4,722.8 L207.3,722.5 L208.2,722.2 L209.1,722.0 L210.1,721.7 L211.0,721.5 L211.9,721.3 L212.9,721.1 L213.8,720.9 L214.7,720.7 L215.6,720.6 L216.6,720.4 L217.5,720.3 L218.4,720.1 L219.3,720.0 L220.3,719.8 L221.2,719.7 L222.1,719.6 L223.1,719.5 L224.0,719.3 L224.9,719.2 L225.8,719.1 L226.8,719.0 L227.7,718.9 L228.6,718.8 L229.6,718.7 L230.5,718.6 L231.4,718.6 L232.3,718.5 L233.3,718.4 L234.2,718.3 L235.4,718.2 L244.1,717.6 L252.8,717.2 L261.5,716.5 L270.2,716.5 L278.9,716.1 L287.6,715.7 L296.2,715.2 L304.9,715.2 L313.6,715.2 L322.3,714.9 L331.0,714.7 L339.7,714.5 L348.4,714.6 L357.1,714.5 L365.8,714.3 L374.5,714.2 L383.2,713.9 L391.8,713.8 L400.5,714.0 L409.2,713.9 L417.9,713.8 L426.6,713.8 L435.3,713.6 L444.0,713.5 L452.7,713.5 L461.4,713.3 L470.1,713.4 L478.8,713.5 L487.4,713.5 L496.1,713.4 L504.8,713.4 L513.5,713.4 L522.2,713.1 L530.9,713.1 L539.6,713.1 L548.3,713.1 L557.0,713.2 L565.7,713.1 L574.4,712.7 L583.0,713.2 L591.7,712.9 L600.4,712.8 L609.1,712.8 L617.8,712.8 L626.5,712.7 L635.2,712.9 L643.9,712.6 L652.6,712.5 L661.3,712.8 L670.0,712.7 L678.7,712.6 L687.3,712.5 L696.0,712.4 L704.7,712.5 L713.4,712.6 L722.1,712.6 L730.8,712.4 L739.5,712.4 L748.2,712.6 L756.9,712.4 L765.6,712.4 L774.3,712.3 L782.9,712.5 L791.6,712.3 L800.3,712.5 L809.0,712.4 L817.7,712.3 L826.4,712.1 L835.1,711.9 L843.8,712.2 L852.5,712.2 L861.2,712.1 L869.9,712.4 L878.5,712.1 L887.2,712.3 L895.9,712.0 L904.6,712.0 L913.3,712.1 L922.0,712.2"/>
<path d="M198.0,735.6 L198.9,734.7 L199.9,733.9 L200.8,733.2 L201.7,732.5 L202.6,731.9 L203.6,731.3 L204.5,730.8 L205.4,730.4 L206.4,729.9 L207.3,729.5 L208.2,729.1 L209.1,728.8 L210.1,728.4 L211.0,728.1 L211.9,727.8 L212.9,727.5 L213.8,727.2 L214.7,727.0 L215.6,726.7 L216.6,726.5 L217.5,726.3 L218.4,726.0 L219.3,725.8 L220.3,725.6 L221.2,725.4 L222.1,725.3 L223.1,725.1 L224.0,724.9 L224.9,724.7 L225.8,724.6 L226.8,724.4 L227.7,724.3 L228.6,724.1 L229.6,724.0 L230.5,723.9 L231.4,723.7 L232.3,723.6 L233.3,723.5 L234.2,723.4 L235.4,723.2 L244.1,722.1 L252.8,721.7 L261.5,721.0 L270.2,720.4 L278.9,720.0 L287.6,719.8 L296.2,719.2 L304.9,718.9 L313.6,718.9 L322.3,718.4 L331.0,718.1 L339.7,717.9 L348.4,717.9 L357.1,717.4 L365.8,717.4 L374.5,717.4 L383.2,717.1 L391.8,717.2 L400.5,716.9 L409.2,717.0 L417.9,716.6 L426.6,716.7 L435.3,716.4 L444.0,716.4 L452.7,716.3 L461.4,716.3 L470.1,716.1 L478.8,716.3 L487.4,716.0 L496.1,715.9 L504.8,715.9 L513.5,715.8 L522.2,715.4 L530.9,715.7 L539.6,715.6 L548.3,715.6 L557.0,715.4 L565.7,715.8 L574.4,715.3 L583.0,715.5 L591.7,715.6 L600.4,715.5 L609.1,715.3 L617.8,715.2 L626.5,715.2 L635.2,715.1 L643.9,715.1 L652.6,715.1 L661.3,715.3 L670.0,715.0 L678.7,714.9 L687.3,715.0 L696.0,715.1 L704.7,715.1 L713.4,714.7 L722.1,714.9 L730.8,714.9 L739.5,714.9 L748.2,714.7 L756.9,714.8 L765.6,714.8 L774.3,714.8 L782.9,714.7 L791.6,714.5 L800.3,714.6 L809.0,714.5 L817.7,714.5 L826.4,714.5 L835.1,714.5 L843.8,714.5 L852.5,714.3 L861.2,714.4 L869.9,714.5 L878.5,714.4 L887.2,714.4 L895.9,714.3 L904.6,714.3 L913.3,714.3 L922.0,714.5"/>
<path d="M198.0,738.2 L198.9,737.3 L199.9,736.4 L200.8,735.7 L201.7,735.0 L202.6,734.4 L203.6,733.9 L204.5,733.3 L205.4,732.9 L206.4,732.4 L207.3,732.0 L208.2,731.6 L209.1,731.2 L210.1,730.9 L211.0,730.5 L211.9,730.2 L212.9,729.9 L213.8,729.7 L214.7,729.4 L215.6,729.1 L216.6,728.9 L217.5,728.7 L218.4,728.4 L219.3,728.2 L220.3,728.0 L221.2,727.8 L222.1,727.6 L223.1,727.5 L224.0,727.3 L224.9,727.1 L225.8,727.0 L226.8,726.8 L227.7,726.7 L228.6,726.5 L229.6,726.4 L230.5,726.2 L231.4,726.1 L232.3,726.0 L233.3,725.8 L234.2,725.7 L235.4,725.7 L244.1,724.7 L252.8,724.0 L261.5,723.1 L270.2,722.6 L278.9,722.2 L287.6,722.0 L296.2,721.5 L304.9,721.2 L313.6,721.1 L322.3,720.8 L331.0,720.4 L339.7,720.2 L348.4,720.0 L357.1,719.8 L365.8,719.7 L374.5,719.6 L383.2,719.5 L391.8,719.4 L400.5,719.2 L409.2,719.1 L417.9,718.7 L426.6,718.8 L435.3,718.8 L444.0,718.7 L452.7,718.6 L461.4,718.5 L470.1,718.3 L478.8,718.3 L487.4,718.2 L496.1,718.3 L504.8,718.1 L513.5,718.0 L522.2,718.1 L530.9,717.9 L539.6,717.9 L548.3,717.9 L557.0,717.8 L565.7,717.9 L574.4,717.5 L583.0,717.7 L591.7,717.7 L600.4,717.5 L609.1,717.7 L617.8,717.3 L626.5,717.4 L635.2,717.3 L643.9,717.3 L652.6,717.4 L661.3,717.5 L670.0,717.0 L678.7,717.2 L687.3,717.2 L696.0,716.9 L704.7,717.2 L713.4,717.1 L722.1,717.0 L730.8,717.0 L739.5,717.1 L748.2,717.0 L756.9,716.8 L765.6,716.8 L774.3,717.2 L782.9,717.0 L791.6,716.8 L800.3,716.8 L809.0,716.8 L817.7,716.6 L826.4,716.9 L835.1,716.5 L843.8,716.6 L852.5,716.6 L861.2,716.6 L869.9,716.5 L878.5,716.6 L887.2,716.6 L895.9,716.4 L904.6,716.5 L913.3,716.6 L922.0,716.3"/>
<path d="M198.0,742.5 L198.9,741.5 L199.9,740.6 L200.8,739.8 L201.7,739.1 L202.6,738.4 L203.6,737.8 L204.5,737.2 L205.4,736.7 L206.4,736.2 L207.3,735.7 L208.2,735.3 L209.1,734.9 L210.1,734.5 L211.0,734.1 L211.9,733.8 L212.9,733.5 L213.8,733.2 L214.7,732.9 L215.6,732.6 L216.6,732.3 L217.5,732.1 L218.4,731.8 L219.3,731.6 L220.3,731.4 L221.2,731.1 L222.1,730.9 L223.1,730.7 L224.0,730.5 L224.9,730.4 L225.8,730.2 L226.8,730.0 L227.7,729.8 L228.6,729.7 L229.6,729.5 L230.5,729.4 L231.4,729.2 L232.3,729.1 L233.3,729.0 L234.2,728.8 L235.4,728.6 L244.1,727.5 L252.8,726.9 L261.5,726.2 L270.2,725.5 L278.9,725.1 L287.6,724.5 L296.2,724.0 L304.9,723.8 L313.6,723.6 L322.3,723.4 L331.0,722.9 L339.7,722.9 L348.4,722.6 L357.1,722.4 L365.8,722.2 L374.5,721.9 L383.2,722.0 L391.8,721.9 L400.5,721.5 L409.2,721.5 L417.9,721.3 L426.6,721.3 L435.3,721.1 L444.0,720.9 L452.7,720.8 L461.4,720.9 L470.1,720.8 L478.8,720.6 L487.4,720.6 L496.1,720.5 L504.8,720.5 L513.5,720.7 L522.2,720.3 L530.9,720.2 L539.6,720.1 L548.3,719.9 L557.0,720.0 L565.7,720.1 L574.4,719.8 L583.0,719.9 L591.7,719.7 L600.4,719.8 L609.1,719.7 L617.8,719.7 L626.5,719.7 L635.2,719.8 L643.9,719.6 L652.6,719.8 L661.3,719.4 L670.0,719.3 L678.7,719.2 L687.3,719.3 L696.0,719.4 L704.7,719.5 L713.4,719.0 L722.1,719.4 L730.8,719.1 L739.5,719.4 L748.2,719.2 L756.9,719.0 L765.6,719.0 L774.3,719.1 L782.9,719.1 L791.6,719.1 L800.3,718.9 L809.0,718.9 L817.7,718.9 L826.4,718.9 L835.1,719.0 L843.8,718.7 L852.5,718.7 L861.2,718.9 L869.9,718.8 L878.5,718.6 L887.2,718.8 L895.9,718.5 L904.6,718.5 L913.3,718.7 L922.0,718.5"/>
<path d="M198.0,749.7 L198.9,748.5 L199.9,747.4 L200.8,746.5 L201.7,745.6 L202.6,744.8 L203.6,744.0 L204.5,743.3 L205.4,742.7 L206.4,742.1 L207.3,741.5 L208.2,741.0 L209.1,740.5 L210.1,740.0 L211.0,739.6 L211.9,739.2 L212.9,738.8 L213.8,738.4 L214.7,738.0 L215.6,737.7 L216.6,737.4 L217.5,737.1 L218.4,736.8 L219.3,736.5 L220.3,736.2 L221.2,736.0 L222.1,735.7 L223.1,735.5 L224.0,735.2 L224.9,735.0 L225.8,734.8 L226.8,734.6 L227.7,734.4 L228.6,734.2 L229.6,734.0 L230.5,733.8 L231.4,733.6 L232.3,733.5 L233.3,733.3 L234.2,733.1 L235.4,732.9 L244.1,731.5 L252.8,731.0 L261.5,729.9 L270.2,729.3 L278.9,728.7 L287.6,727.8 L296.2,727.5 L304.9,727.0 L313.6,726.8 L322.3,726.4 L331.0,726.2 L339.7,725.9 L348.4,725.6 L357.1,725.4 L365.8,725.0 L374.5,725.0 L383.2,724.7 L391.8,724.6 L400.5,724.4 L409.2,724.4 L417.9,724.0 L426.6,724.1 L435.3,723.9 L444.0,723.8 L452.7,723.5 L461.4,723.4 L470.1,723.4 L478.8,723.3 L487.4,723.2 L496.1,723.0 L504.8,723.0 L513.5,722.8 L522.2,722.7 L530.9,722.7 L539.6,722.8 L548.3,722.4 L557.0,722.3 L565.7,722.5 L574.4,722.5 L583.0,722.6 L591.7,722.2 L600.4,722.3 L609.1,722.0 L617.8,722.4 L626.5,722.0 L635.2,721.9 L643.9,722.0 L652.6,722.0 L661.3,721.8 L670.0,721.9 L678.7,721.8 L687.3,721.7 L696.0,721.7 L704.7,721.6 L713.4,721.5 L722.1,721.6 L730.8,721.5 L739.5,721.5 L748.2,721.3 L756.9,721.5 L765.6,721.2 L774.3,721.7 L782.9,721.4 L791.6,721.4 L800.3,721.1 L809.0,721.1 L817.7,721.3 L826.4,721.2 L835.1,720.9 L843.8,721.1 L852.5,721.0 L861.2,721.2 L869.9,721.1 L878.5,720.9 L887.2,720.6 L895.9,721.0 L904.6,720.8 L913.3,720.9 L922.0,720.7"/>
<path d="M198.0,752.6 L198.9,751.4 L199.9,750.3 L200.8,749.3 L201.7,748.4 L202.6,747.5 L203.6,746.8 L204.5,746.0 L205.4,745.4 L206.4,744.8 L207.3,744.2 L208.2,743.7 L209.1,743.1 L210.1,742.7 L211.0,742.2 L211.9,741.8 L212.9,741.4 L213.8,741.0 L214.7,740.6 L215.6,740.3 L216.6,740.0 L217.5,739.7 L218.4,739.3 L219.3,739.1 L220.3,738.8 L221.2,738.5 L222.1,738.3 L223.1,738.0 L224.0,737.8 L224.9,737.5 L225.8,737.3 L226.8,737.1 L227.7,736.9 L228.6,736.7 L229.6,736.5 L230.5,736.3 L231.4,736.1 L232.3,736.0 L233.3,735.8 L234.2,735.6 L235.4,735.1 L244.1,734.2 L252.8,733.1 L261.5,732.3 L270.2,731.5 L278.9,730.8 L287.6,730.4 L296.2,729.8 L304.9,729.4 L313.6,729.1 L322.3,729.0 L331.0,728.3 L339.7,728.3 L348.4,728.0 L357.1,727.7 L365.8,727.6 L374.5,727.3 L383.2,727.0 L391.8,726.9 L400.5,726.7 L409.2,726.6 L417.9,726.4 L426.6,726.4 L435.3,726.1 L444.0,726.0 L452.7,725.9 L461.4,725.9 L470.1,725.7 L478.8,725.5 L487.4,725.3 L496.1,725.3 L504.8,725.3 L513.5,725.3 L522.2,724.8 L530.9,725.1 L539.6,725.0 L548.3,724.9 L557.0,725.0 L565.7,724.6 L574.4,724.6 L583.0,724.5 L591.7,724.6 L600.4,724.5 L609.1,724.3 L617.8,724.2 L626.5,723.9 L635.2,724.1 L643.9,724.4 L652.6,724.1 L661.3,724.1 L670.0,723.9 L678.7,724.0 L687.3,723.9 L696.0,723.9 L704.7,723.7 L713.4,723.6 L722.1,723.8 L730.8,723.9 L739.5,723.8 L748.2,723.4 L756.9,723.5 L765.6,723.6 L774.3,723.6 L782.9,723.3 L791.6,723.4 L800.3,723.4 L809.0,723.4 L817.7,723.3 L826.4,723.3 L835.1,723.2 L843.8,723.1 L852.5,723.4 L861.2,723.3 L869.9,723.2 L878.5,723.1 L887.2,723.3 L895.9,723.1 L904.6,723.1 L913.3,723.1 L922.0,723.0"/>
<path d="M198.0,763.9 L198.9,762.3 L199.9,760.8 L200.8,759.5 L201.7,758.3 L202.6,757.2 L203.6,756.2 L204.5,755.3 L205.4,754.4 L206.4,753.6 L207.3,752.9 L208.2,752.2 L209.1,751.5 L210.1,750.9 L211.0,750.3 L211.9,749.7 L212.9,749.2 L213.8,748.7 L214.7,748.2 L215.6,747.8 L216.6,747.4 L217.5,746.9 L218.4,746.5 L219.3,746.2 L220.3,745.8 L221.2,745.5 L222.1,745.1 L223.1,744.8 L224.0,744.5 L224.9,744.2 L225.8,743.9 L226.8,743.6 L227.7,743.3 L228.6,743.1 L229.6,742.8 L230.5,742.6 L231.4,742.4 L232.3,742.1 L233.3,741.9 L234.2,741.7 L235.4,741.4 L244.1,739.6 L252.8,738.1 L261.5,737.1 L270.2,736.5 L278.9,735.5 L287.6,734.6 L296.2,734.1 L304.9,733.4 L313.6,733.2 L322.3,732.8 L331.0,732.4 L339.7,732.0 L348.4,731.4 L357.1,731.4 L365.8,730.9 L374.5,730.7 L383.2,730.4 L391.8,730.3 L400.5,730.0 L409.2,729.6 L417.9,729.7 L426.6,729.3 L435.3,729.1 L444.0,729.0 L452.7,728.7 L461.4,729.1 L470.1,728.7 L478.8,728.6 L487.4,728.4 L496.1,728.2 L504.8,728.1 L513.5,728.1 L522.2,727.8 L530.9,728.0 L539.6,727.6 L548.3,727.6 L557.0,727.7 L565.7,727.6 L574.4,727.5 L583.0,727.3 L591.7,727.1 L600.4,726.9 L609.1,726.9 L617.8,727.1 L626.5,727.1 L635.2,726.8 L643.9,726.9 L652.6,726.6 L661.3,726.6 L670.0,726.2 L678.7,726.6 L687.3,726.3 L696.0,726.1 L704.7,726.3 L713.4,726.3 L722.1,725.9 L730.8,726.3 L739.5,726.2 L748.2,726.1 L756.9,725.9 L765.6,725.8 L774.3,725.9 L782.9,725.5 L791.6,725.8 L800.3,725.7 L809.0,725.7 L817.7,725.5 L826.4,725.6 L835.1,725.6 L843.8,725.3 L852.5,725.3 L861.2,725.3 L869.9,725.5 L878.5,725.5 L887.2,725.3 L895.9,725.3 L904.6,725.3 L913.3,725.2 L922.0,725.1"/>
<path d="M198.0,767.1 L198.9,765.4 L199.9,763.9 L200.8,762.6 L201.7,761.4 L202.6,760.2 L203.6,759.2 L204.5,758.3 L205.4,757.4 L206.4,756.5 L207.3,755.8 L208.2,755.0 L209.1,754.4 L210.1,753.7 L211.0,753.1 L211.9,752.6 L212.9,752.0 L213.8,751.5 L214.7,751.0 L215.6,750.6 L216.6,750.1 L217.5,749.7 L218.4,749.3 L219.3,748.9 L220.3,748.5 L221.2,748.2 L222.1,747.8 L223.1,747.5 L224.0,747.2 L224.9,746.9 L225.8,746.6 L226.8,746.3 L227.7,746.0 L228.6,745.7 L229.6,745.5 L230.5,745.2 L231.4,745.0 L232.3,744.7 L233.3,744.5 L234.2,744.3 L235.4,743.9 L244.1,742.2 L252.8,740.8 L261.5,739.8 L270.2,738.8 L278.9,738.0 L287.6,737.2 L296.2,736.4 L304.9,736.0 L313.6,735.4 L322.3,735.1 L331.0,734.5 L339.7,734.6 L348.4,734.1 L357.1,733.6 L365.8,733.5 L374.5,733.0 L383.2,732.7 L391.8,732.6 L400.5,732.3 L409.2,732.3 L417.9,732.0 L426.6,731.7 L435.3,731.7 L444.0,731.2 L452.7,731.3 L461.4,730.9 L470.1,730.9 L478.8,730.7 L487.4,730.7 L496.1,730.5 L504.8,730.4 L513.5,730.2 L522.2,730.0 L530.9,730.1 L539.6,729.9 L548.3,729.8 L557.0,729.6 L565.7,729.6 L574.4,729.6 L583.0,729.5 L591.7,729.3 L600.4,729.2 L609.1,729.3 L617.8,729.1 L626.5,728.9 L635.2,729.0 L643.9,728.9 L652.6,728.7 L661.3,728.7 L670.0,728.6 L678.7,728.5 L687.3,728.6 L696.0,728.5 L704.7,728.4 L713.4,728.4 L722.1,728.5 L730.8,728.3 L739.5,728.2 L748.2,728.1 L756.9,728.1 L765.6,728.1 L774.3,728.2 L782.9,728.1 L791.6,728.3 L800.3,727.9 L809.0,727.6 L817.7,727.6 L826.4,727.9 L835.1,727.6 L843.8,727.5 L852.5,727.6 L861.2,727.8 L869.9,727.4 L878.5,727.5 L887.2,727.5 L895.9,727.2 L904.6,727.3 L913.3,727.3 L922.0,727.1"/>
<path d="M198.0,778.1 L198.9,776.1 L199.9,774.3 L200.8,772.7 L201.7,771.2 L202.6,769.8 L203.6,768.6 L204.5,767.4 L205.4,766.4 L206.4,765.4 L207.3,764.5 L208.2,763.6 L209.1,762.8 L210.1,762.0 L211.0,761.3 L211.9,760.6 L212.9,759.9 L213.8,759.3 L214.7,758.7 L215.6,758.2 L216.6,757.6 L217.5,757.1 L218.4,756.6 L219.3,756.2 L220.3,755.7 L221.2,755.3 L222.1,754.9 L223.1,754.5 L224.0,754.1 L224.9,753.7 L225.8,753.4 L226.8,753.0 L227.7,752.7 L228.6,752.4 L229.6,752.1 L230.5,751.8 L231.4,751.5 L232.3,751.2 L233.3,750.9 L234.2,750.6 L235.4,750.2 L244.1,748.2 L252.8,746.6 L261.5,745.1 L270.2,743.9 L278.9,742.9 L287.6,742.2 L296.2,741.2 L304.9,740.9 L313.6,740.2 L322.3,739.6 L331.0,739.0 L339.7,738.6 L348.4,738.1 L357.1,737.8 L365.8,737.3 L374.5,737.0 L383.2,736.8 L391.8,736.7 L400.5,736.3 L409.2,736.1 L417.9,735.6 L426.6,735.4 L435.3,735.4 L444.0,734.8 L452.7,734.9 L461.4,734.9 L470.1,734.4 L478.8,734.2 L487.4,734.2 L496.1,734.1 L504.8,733.7 L513.5,733.8 L522.2,733.6 L530.9,733.4 L539.6,733.3 L548.3,733.3 L557.0,733.2 L565.7,732.9 L574.4,733.1 L583.0,732.7 L591.7,732.6 L600.4,732.5 L609.1,732.5 L617.8,732.3 L626.5,732.2 L635.2,732.3 L643.9,732.1 L652.6,732.0 L661.3,732.1 L670.0,732.0 L678.7,731.6 L687.3,731.6 L696.0,731.7 L704.7,731.5 L713.4,731.4 L722.1,731.3 L730.8,731.2 L739.5,731.6 L748.2,731.3 L756.9,731.0 L765.6,730.9 L774.3,731.1 L782.9,731.1 L791.6,730.9 L800.3,730.9 L809.0,730.8 L817.7,730.9 L826.4,730.6 L835.1,730.6 L843.8,730.6 L852.5,730.7 L861.2,730.7 L869.9,730.6 L878.5,730.4 L887.2,730.6 L895.9,730.3 L904.6,730.1 L913.3,730.3 L922.0,730.2"/>
<path d="M198.0,784.4 L198.9,782.3 L199.9,780.3 L200.8,778.6 L201.7,777.0 L202.6,775.5 L203.6,774.1 L204.5,772.9 L205.4,771.7 L206.4,770.6 L207.3,769.6 L208.2,768.7 L209.1,767.8 L210.1,767.0 L211.0,766.2 L211.9,765.4 L212.9,764.7 L213.8,764.0 L214.7,763.4 L215.6,762.8 L216.6,762.2 L217.5,761.7 L218.4,761.1 L219.3,760.6 L220.3,760.1 L221.2,759.7 L222.1,759.2 L223.1,758.8 L224.0,758.4 L224.9,758.0 L225.8,757.6 L226.8,757.2 L227.7,756.8 L228.6,756.5 L229.6,756.1 L230.5,755.8 L231.4,755.5 L232.3,755.2 L233.3,754.9 L234.2,754.6 L235.4,754.4 L244.1,751.9 L252.8,750.0 L261.5,748.8 L270.2,747.2 L278.9,746.4 L287.6,745.2 L296.2,744.5 L304.9,743.7 L313.6,743.0 L322.3,742.6 L331.0,741.8 L339.7,741.3 L348.4,741.1 L357.1,740.5 L365.8,740.1 L374.5,739.9 L383.2,739.6 L391.8,739.0 L400.5,738.9 L409.2,738.5 L417.9,738.1 L426.6,738.0 L435.3,738.0 L444.0,737.5 L452.7,737.6 L461.4,737.3 L470.1,736.7 L478.8,736.9 L487.4,736.6 L496.1,736.6 L504.8,736.4 L513.5,736.2 L522.2,736.3 L530.9,736.0 L539.6,735.7 L548.3,735.5 L557.0,735.5 L565.7,735.5 L574.4,735.2 L583.0,735.2 L591.7,735.1 L600.4,734.9 L609.1,734.5 L617.8,734.8 L626.5,734.5 L635.2,734.5 L643.9,734.6 L652.6,734.4 L661.3,734.3 L670.0,734.2 L678.7,734.0 L687.3,734.1 L696.0,734.0 L704.7,733.7 L713.4,733.8 L722.1,733.8 L730.8,733.6 L739.5,733.3 L748.2,733.5 L756.9,733.6 L765.6,733.2 L774.3,733.1 L782.9,733.1 L791.6,733.3 L800.3,733.3 L809.0,732.9 L817.7,733.0 L826.4,732.9 L835.1,732.9 L843.8,732.6 L852.5,732.8 L861.2,732.7 L869.9,732.6 L878.5,732.8 L887.2,732.5 L895.9,732.5 L904.6,732.7 L913.3,732.6 L922.0,732.5"/>
<path d="M198.0,813.4 L198.9,808.9 L199.9,805.1 L200.8,801.8 L201.7,798.8 L202.6,796.2 L203.6,793.8 L204.5,791.7 L205.4,789.7 L206.4,787.9 L207.3,786.3 L208.2,784.7 L209.1,783.3 L210.1,782.0 L211.0,780.8 L211.9,779.6 L212.9,778.6 L213.8,777.5 L214.7,776.6 L215.6,775.7 L216.6,774.8 L217.5,774.0 L218.4,773.2 L219.3,772.5 L220.3,771.8 L221.2,771.1 L222.1,770.4 L223.1,769.8 L224.0,769.2 L224.9,768.6 L225.8,768.1 L226.8,767.6 L227.7,767.0 L228.6,766.6 L229.6,766.1 L230.5,765.6 L231.4,765.2 L232.3,764.8 L233.3,764.3 L234.2,763.9 L235.4,763.4 L244.1,760.5 L252.8,758.0 L261.5,755.9 L270.2,754.1 L278.9,752.8 L287.6,751.6 L296.2,750.6 L304.9,749.5 L313.6,748.8 L322.3,747.9 L331.0,747.1 L339.7,746.7 L348.4,746.1 L357.1,745.6 L365.8,745.1 L374.5,744.7 L383.2,744.3 L391.8,743.8 L400.5,743.4 L409.2,743.0 L417.9,742.8 L426.6,742.4 L435.3,742.3 L444.0,741.6 L452.7,741.3 L461.4,741.3 L470.1,741.0 L478.8,740.8 L487.4,740.5 L496.1,740.5 L504.8,740.4 L513.5,739.9 L522.2,740.0 L530.9,739.6 L539.6,739.6 L548.3,739.4 L557.0,739.0 L565.7,738.8 L574.4,738.9 L583.0,738.8 L591.7,738.5 L600.4,738.5 L609.1,738.5 L617.8,738.2 L626.5,738.3 L635.2,737.9 L643.9,737.9 L652.6,737.7 L661.3,737.8 L670.0,737.6 L678.7,737.3 L687.3,737.1 L696.0,737.1 L704.7,737.0 L713.4,737.1 L722.1,736.8 L730.8,736.8 L739.5,736.8 L748.2,736.5 L756.9,736.6 L765.6,736.3 L774.3,736.5 L782.9,736.4 L791.6,736.3 L800.3,736.3 L809.0,736.2 L817.7,736.0 L826.4,736.2 L835.1,736.0 L843.8,736.0 L852.5,735.8 L861.2,735.6 L869.9,735.7 L878.5,735.6 L887.2,735.5 L895.9,735.6 L904.6,735.4 L913.3,735.4 L922.0,735.4"/>
<path d="M198.0,820.6 L198.9,815.9 L199.9,811.9 L200.8,808.3 L201.7,805.2 L202.6,802.4 L203.6,799.9 L204.5,797.7 L205.4,795.6 L206.4,793.7 L207.3,792.0 L208.2,790.4 L209.1,788.9 L210.1,787.5 L211.0,786.2 L211.9,785.0 L212.9,783.9 L213.8,782.8 L214.7,781.8 L215.6,780.8 L216.6,779.9 L217.5,779.0 L218.4,778.2 L219.3,777.4 L220.3,776.7 L221.2,776.0 L222.1,775.3 L223.1,774.6 L224.0,774.0 L224.9,773.4 L225.8,772.8 L226.8,772.2 L227.7,771.7 L228.6,771.2 L229.6,770.7 L230.5,770.2 L231.4,769.7 L232.3,769.3 L233.3,768.8 L234.2,768.4 L235.4,767.9 L244.1,764.6 L252.8,762.1 L261.5,759.8 L270.2,758.2 L278.9,756.7 L287.6,755.3 L296.2,754.1 L304.9,753.3 L313.6,752.2 L322.3,751.4 L331.0,750.8 L339.7,750.3 L348.4,749.5 L357.1,748.9 L365.8,748.6 L374.5,747.8 L383.2,747.6 L391.8,747.1 L400.5,746.6 L409.2,746.3 L417.9,745.9 L426.6,745.7 L435.3,745.3 L444.0,745.1 L452.7,744.8 L461.4,744.5 L470.1,744.2 L478.8,744.1 L487.4,743.7 L496.1,743.6 L504.8,743.2 L513.5,743.1 L522.2,743.0 L530.9,742.9 L539.6,742.6 L548.3,742.3 L557.0,742.2 L565.7,742.0 L574.4,741.9 L583.0,741.8 L591.7,741.7 L600.4,741.7 L609.1,741.3 L617.8,741.2 L626.5,741.1 L635.2,740.9 L643.9,741.0 L652.6,740.5 L661.3,740.8 L670.0,740.5 L678.7,740.5 L687.3,740.3 L696.0,740.0 L704.7,740.2 L713.4,740.0 L722.1,739.9 L730.8,739.8 L739.5,739.7 L748.2,739.5 L756.9,739.5 L765.6,739.4 L774.3,739.2 L782.9,739.2 L791.6,739.2 L800.3,739.3 L809.0,738.9 L817.7,739.0 L826.4,738.7 L835.1,738.9 L843.8,738.9 L852.5,738.5 L861.2,738.7 L869.9,738.7 L878.5,738.3 L887.2,738.6 L895.9,738.2 L904.6,738.4 L913.3,738.2 L922.0,738.1"/>
<path d="M198.0,842.3 L198.9,836.5 L199.9,831.6 L200.8,827.2 L201.7,823.4 L202.6,820.0 L203.6,816.9 L204.5,814.1 L205.4,811.6 L206.4,809.3 L207.3,807.2 L208.2,805.2 L209.1,803.4 L210.1,801.7 L211.0,800.1 L211.9,798.6 L212.9,797.2 L213.8,795.8 L214.7,794.6 L215.6,793.4 L216.6,792.3 L217.5,791.2 L218.4,790.2 L219.3,789.3 L220.3,788.3 L221.2,787.5 L222.1,786.6 L223.1,785.8 L224.0,785.1 L224.9,784.3 L225.8,783.6 L226.8,782.9 L227.7,782.2 L228.6,781.6 L229.6,781.0 L230.5,780.4 L231.4,779.8 L232.3,779.3 L233.3,778.7 L234.2,778.2 L235.4,777.4 L244.1,773.7 L252.8,770.6 L261.5,767.7 L270.2,765.6 L278.9,763.7 L287.6,762.3 L296.2,760.8 L304.9,759.8 L313.6,758.6 L322.3,757.6 L331.0,756.7 L339.7,755.7 L348.4,754.9 L357.1,754.5 L365.8,753.5 L374.5,753.2 L383.2,752.6 L391.8,751.9 L400.5,751.9 L409.2,751.3 L417.9,750.8 L426.6,750.3 L435.3,749.8 L444.0,749.4 L452.7,749.3 L461.4,748.8 L470.1,748.6 L478.8,748.1 L487.4,748.0 L496.1,747.6 L504.8,747.6 L513.5,747.1 L522.2,747.1 L530.9,746.7 L539.6,746.7 L548.3,746.3 L557.0,746.2 L565.7,746.0 L574.4,745.7 L583.0,745.4 L591.7,745.3 L600.4,745.1 L609.1,744.9 L617.8,744.7 L626.5,744.5 L635.2,744.4 L643.9,744.1 L652.6,744.3 L661.3,744.0 L670.0,744.1 L678.7,743.5 L687.3,743.7 L696.0,743.5 L704.7,743.2 L713.4,743.3 L722.1,743.3 L730.8,743.3 L739.5,743.0 L748.2,742.6 L756.9,742.7 L765.6,742.4 L774.3,742.4 L782.9,742.5 L791.6,742.5 L800.3,742.2 L809.0,742.1 L817.7,742.1 L826.4,741.9 L835.1,741.8 L843.8,741.8 L852.5,741.9 L861.2,741.6 L869.9,741.5 L878.5,741.5 L887.2,741.5 L895.9,741.4 L904.6,741.2 L913.3,741.2 L922.0,741.1"/>
<path d="M198.0,856.8 L198.9,850.3 L199.9,844.8 L200.8,840.0 L201.7,835.7 L202.6,831.9 L203.6,828.5 L204.5,825.4 L205.4,822.6 L206.4,820.0 L207.3,817.6 L208.2,815.4 L209.1,813.4 L210.1,811.5 L211.0,809.7 L211.9,808.0 L212.9,806.5 L213.8,805.0 L214.7,803.6 L215.6,802.3 L216.6,801.1 L217.5,799.9 L218.4,798.7 L219.3,797.7 L220.3,796.6 L221.2,795.7 L222.1,794.7 L223.1,793.8 L224.0,793.0 L224.9,792.1 L225.8,791.3 L226.8,790.6 L227.7,789.8 L228.6,789.1 L229.6,788.5 L230.5,787.8 L231.4,787.1 L232.3,786.5 L233.3,785.9 L234.2,785.3 L235.4,784.4 L244.1,780.0 L252.8,776.6 L261.5,773.8 L270.2,771.1 L278.9,769.2 L287.6,767.4 L296.2,765.9 L304.9,764.7 L313.6,763.1 L322.3,762.2 L331.0,761.1 L339.7,760.4 L348.4,759.5 L357.1,758.6 L365.8,758.1 L374.5,757.5 L383.2,756.9 L391.8,756.4 L400.5,755.6 L409.2,755.2 L417.9,754.9 L426.6,754.1 L435.3,753.7 L444.0,753.3 L452.7,753.2 L461.4,752.6 L470.1,752.2 L478.8,752.1 L487.4,751.8 L496.1,751.4 L504.8,751.3 L513.5,750.8 L522.2,750.4 L530.9,750.2 L539.6,749.8 L548.3,749.8 L557.0,749.5 L565.7,749.3 L574.4,749.2 L583.0,749.0 L591.7,748.8 L600.4,748.5 L609.1,748.4 L617.8,748.1 L626.5,747.9 L635.2,747.7 L643.9,747.7 L652.6,747.7 L661.3,747.4 L670.0,746.9 L678.7,746.9 L687.3,746.9 L696.0,746.7 L704.7,746.6 L713.4,746.5 L722.1,746.3 L730.8,746.1 L739.5,745.9 L748.2,746.0 L756.9,745.8 L765.6,745.7 L774.3,745.6 L782.9,745.3 L791.6,745.4 L800.3,745.0 L809.0,745.1 L817.7,744.9 L826.4,745.0 L835.1,744.9 L843.8,744.8 L852.5,744.6 L861.2,744.8 L869.9,744.4 L878.5,744.6 L887.2,744.2 L895.9,744.1 L904.6,744.1 L913.3,744.0 L922.0,744.0"/>
<path d="M198.0,878.5 L198.9,871.0 L199.9,864.5 L200.8,858.9 L201.7,853.9 L202.6,849.5 L203.6,845.5 L204.5,841.9 L205.4,838.6 L206.4,835.6 L207.3,832.8 L208.2,830.2 L209.1,827.8 L210.1,825.6 L211.0,823.6 L211.9,821.6 L212.9,819.8 L213.8,818.1 L214.7,816.5 L215.6,814.9 L216.6,813.5 L217.5,812.1 L218.4,810.8 L219.3,809.5 L220.3,808.3 L221.2,807.2 L222.1,806.1 L223.1,805.0 L224.0,804.0 L224.9,803.1 L225.8,802.1 L226.8,801.2 L227.7,800.4 L228.6,799.6 L229.6,798.8 L230.5,798.0 L231.4,797.2 L232.3,796.5 L233.3,795.8 L234.2,795.1 L235.4,794.3 L244.1,789.0 L252.8,784.8 L261.5,781.2 L270.2,778.7 L278.9,776.2 L287.6,774.3 L296.2,772.6 L304.9,770.8 L313.6,769.3 L322.3,768.2 L331.0,767.0 L339.7,766.1 L348.4,765.3 L357.1,764.1 L365.8,763.4 L374.5,762.5 L383.2,761.9 L391.8,761.1 L400.5,760.4 L409.2,760.1 L417.9,759.4 L426.6,758.9 L435.3,758.2 L444.0,757.9 L452.7,757.5 L461.4,757.1 L470.1,756.4 L478.8,756.3 L487.4,755.8 L496.1,755.5 L504.8,755.3 L513.5,754.9 L522.2,754.7 L530.9,754.3 L539.6,753.8 L548.3,753.6 L557.0,753.6 L565.7,752.9 L574.4,753.0 L583.0,752.7 L591.7,752.2 L600.4,752.1 L609.1,751.9 L617.8,751.5 L626.5,751.5 L635.2,751.3 L643.9,751.2 L652.6,750.9 L661.3,750.7 L670.0,750.4 L678.7,750.5 L687.3,750.2 L696.0,750.3 L704.7,750.1 L713.4,749.7 L722.1,749.6 L730.8,749.5 L739.5,749.2 L748.2,749.2 L756.9,749.0 L765.6,748.9 L774.3,749.0 L782.9,748.5 L791.6,748.3 L800.3,748.2 L809.0,748.2 L817.7,748.1 L826.4,747.9 L835.1,747.7 L843.8,747.6 L852.5,747.7 L861.2,747.6 L869.9,747.5 L878.5,747.4 L887.2,747.3 L895.9,747.2 L904.6,747.3 L913.3,746.9 L922.0,746.9"/>
<path d="M198.0,894.8 L198.9,875.1 L199.9,861.5 L200.8,851.3 L201.7,843.3 L202.6,836.9 L203.6,831.5 L204.5,827.0 L205.4,823.1 L206.4,819.6 L207.3,816.6 L208.2,813.9 L209.1,811.5 L210.1,809.3 L211.0,807.3 L211.9,805.4 L212.9,803.7 L213.8,802.2 L214.7,800.7 L215.6,799.4 L216.6,798.1 L217.5,796.9 L218.4,795.8 L219.3,794.7 L220.3,793.8 L221.2,792.8 L222.1,791.9 L223.1,791.1 L224.0,790.3 L224.9,789.5 L225.8,788.8 L226.8,788.1 L227.7,787.4 L228.6,786.8 L229.6,786.2 L230.5,785.6 L231.4,785.0 L232.3,784.5 L233.3,783.9 L234.2,783.4 L235.4,782.8 L244.1,778.7 L252.8,776.1 L261.5,773.6 L270.2,771.8 L278.9,770.2 L287.6,768.6 L296.2,767.5 L304.9,766.4 L313.6,765.7 L322.3,764.4 L331.0,763.7 L339.7,763.4 L348.4,762.8 L357.1,762.2 L365.8,761.5 L374.5,761.2 L383.2,760.6 L391.8,760.2 L400.5,759.5 L409.2,759.4 L417.9,759.1 L426.6,758.5 L435.3,758.3 L444.0,758.1 L452.7,757.8 L461.4,757.5 L470.1,757.3 L478.8,757.0 L487.4,756.9 L496.1,756.7 L504.8,756.4 L513.5,756.1 L522.2,755.8 L530.9,755.7 L539.6,755.6 L548.3,755.4 L557.0,755.2 L565.7,755.3 L574.4,755.0 L583.0,755.0 L591.7,754.8 L600.4,754.6 L609.1,754.4 L617.8,754.2 L626.5,754.1 L635.2,753.8 L643.9,753.8 L652.6,753.7 L661.3,753.6 L670.0,753.3 L678.7,753.2 L687.3,753.3 L696.0,753.2 L704.7,753.0 L713.4,752.9 L722.1,752.9 L730.8,752.7 L739.5,752.8 L748.2,752.6 L756.9,752.4 L765.6,752.5 L774.3,752.3 L782.9,752.3 L791.6,752.2 L800.3,752.3 L809.0,752.1 L817.7,751.9 L826.4,751.9 L835.1,751.7 L843.8,751.6 L852.5,751.7 L861.2,751.6 L869.9,751.4 L878.5,751.4 L887.2,751.4 L895.9,751.4 L904.6,751.2 L913.3,751.1 L922.0,751.2"/>
<path d="M198.0,935.1 L198.9,910.5 L199.9,893.4 L200.8,880.7 L201.7,870.7 L202.6,862.7 L203.6,856.0 L204.5,850.3 L205.4,845.4 L206.4,841.1 L207.3,837.3 L208.2,833.9 L209.1,830.9 L210.1,828.1 L211.0,825.6 L211.9,823.3 L212.9,821.2 L213.8,819.2 L214.7,817.4 L215.6,815.7 L216.6,814.2 L217.5,812.7 L218.4,811.3 L219.3,810.0 L220.3,808.7 L221.2,807.6 L222.1,806.5 L223.1,805.4 L224.0,804.4 L224.9,803.4 L225.8,802.5 L226.8,801.7 L227.7,800.8 L228.6,800.0 L229.6,799.2 L230.5,798.5 L231.4,797.8 L232.3,797.1 L233.3,796.5 L234.2,795.8 L235.4,794.9 L244.1,790.3 L252.8,786.8 L261.5,783.6 L270.2,781.2 L278.9,779.2 L287.6,777.6 L296.2,775.8 L304.9,774.9 L313.6,773.4 L322.3,772.4 L331.0,771.4 L339.7,770.5 L348.4,769.8 L357.1,769.1 L365.8,768.5 L374.5,767.8 L383.2,767.2 L391.8,766.7 L400.5,766.4 L409.2,766.0 L417.9,765.3 L426.6,764.9 L435.3,764.7 L444.0,764.3 L452.7,763.8 L461.4,763.4 L470.1,763.1 L478.8,762.7 L487.4,762.6 L496.1,762.2 L504.8,761.9 L513.5,761.8 L522.2,761.2 L530.9,761.3 L539.6,761.0 L548.3,761.0 L557.0,760.6 L565.7,760.5 L574.4,760.3 L583.0,760.0 L591.7,760.0 L600.4,759.6 L609.1,759.7 L617.8,759.4 L626.5,759.0 L635.2,759.0 L643.9,758.8 L652.6,758.8 L661.3,758.7 L670.0,758.3 L678.7,758.2 L687.3,758.0 L696.0,758.0 L704.7,757.8 L713.4,757.8 L722.1,757.6 L730.8,757.5 L739.5,757.5 L748.2,757.1 L756.9,757.2 L765.6,757.0 L774.3,757.2 L782.9,757.0 L791.6,756.8 L800.3,756.6 L809.0,756.5 L817.7,756.5 L826.4,756.4 L835.1,756.3 L843.8,756.3 L852.5,756.1 L861.2,756.0 L869.9,756.1 L878.5,755.9 L887.2,756.0 L895.9,755.8 L904.6,755.6 L913.3,755.7 L922.0,755.5"/>
<path d="M198.0,925.9 L198.9,903.3 L199.9,887.7 L200.8,876.0 L201.7,866.9 L202.6,859.5 L203.6,853.4 L204.5,848.2 L205.4,843.7 L206.4,839.7 L207.3,836.3 L208.2,833.2 L209.1,830.4 L210.1,827.9 L211.0,825.6 L211.9,823.5 L212.9,821.5 L213.8,819.7 L214.7,818.1 L215.6,816.5 L216.6,815.1 L217.5,813.7 L218.4,812.4 L219.3,811.2 L220.3,810.1 L221.2,809.0 L222.1,808.0 L223.1,807.0 L224.0,806.1 L224.9,805.2 L225.8,804.4 L226.8,803.6 L227.7,802.8 L228.6,802.1 L229.6,801.4 L230.5,800.7 L231.4,800.1 L232.3,799.4 L233.3,798.8 L234.2,798.3 L235.4,797.5 L244.1,792.9 L252.8,789.8 L261.5,787.0 L270.2,784.8 L278.9,783.2 L287.6,781.6 L296.2,780.2 L304.9,778.8 L313.6,777.8 L322.3,777.0 L331.0,776.1 L339.7,775.1 L348.4,774.4 L357.1,773.7 L365.8,773.2 L374.5,772.6 L383.2,772.1 L391.8,771.6 L400.5,771.2 L409.2,770.8 L417.9,770.4 L426.6,769.9 L435.3,769.4 L444.0,769.3 L452.7,769.0 L461.4,768.5 L470.1,768.2 L478.8,768.1 L487.4,767.8 L496.1,767.6 L504.8,767.2 L513.5,766.7 L522.2,766.9 L530.9,766.5 L539.6,766.4 L548.3,766.1 L557.0,765.9 L565.7,765.8 L574.4,765.7 L583.0,765.5 L591.7,765.2 L600.4,765.1 L609.1,764.9 L617.8,764.7 L626.5,764.7 L635.2,764.4 L643.9,764.5 L652.6,764.3 L661.3,764.2 L670.0,764.0 L678.7,763.5 L687.3,763.7 L696.0,763.6 L704.7,763.3 L713.4,763.4 L722.1,763.4 L730.8,763.2 L739.5,763.1 L748.2,763.1 L756.9,762.9 L765.6,762.7 L774.3,762.4 L782.9,762.5 L791.6,762.5 L800.3,762.4 L809.0,762.4 L817.7,762.4 L826.4,762.2 L835.1,762.3 L843.8,762.0 L852.5,761.7 L861.2,761.9 L869.9,761.7 L878.5,761.8 L887.2,761.8 L895.9,761.5 L904.6,761.5 L913.3,761.3 L922.0,761.3"/>
<path d="M198.0,969.1 L198.9,941.4 L199.9,922.2 L200.8,907.9 L201.7,896.7 L202.6,887.6 L203.6,880.1 L204.5,873.7 L205.4,868.2 L206.4,863.3 L207.3,859.1 L208.2,855.3 L209.1,851.9 L210.1,848.8 L211.0,845.9 L211.9,843.4 L212.9,841.0 L213.8,838.8 L214.7,836.7 L215.6,834.8 L216.6,833.1 L217.5,831.4 L218.4,829.8 L219.3,828.4 L220.3,827.0 L221.2,825.6 L222.1,824.4 L223.1,823.2 L224.0,822.1 L224.9,821.0 L225.8,820.0 L226.8,819.0 L227.7,818.1 L228.6,817.2 L229.6,816.3 L230.5,815.5 L231.4,814.7 L232.3,813.9 L233.3,813.2 L234.2,812.4 L235.4,811.6 L244.1,806.2 L252.8,802.1 L261.5,798.5 L270.2,795.9 L278.9,793.7 L287.6,792.0 L296.2,790.1 L304.9,788.6 L313.6,787.4 L322.3,786.3 L331.0,784.9 L339.7,784.3 L348.4,783.1 L357.1,782.5 L365.8,781.7 L374.5,780.9 L383.2,780.5 L391.8,779.8 L400.5,779.2 L409.2,778.5 L417.9,778.0 L426.6,777.7 L435.3,777.4 L444.0,776.7 L452.7,776.5 L461.4,776.0 L470.1,775.9 L478.8,775.4 L487.4,774.9 L496.1,774.7 L504.8,774.3 L513.5,774.0 L522.2,773.6 L530.9,773.6 L539.6,773.5 L548.3,773.3 L557.0,772.9 L565.7,772.8 L574.4,772.3 L583.0,772.4 L591.7,771.8 L600.4,771.7 L609.1,771.7 L617.8,771.3 L626.5,771.1 L635.2,770.9 L643.9,770.8 L652.6,770.6 L661.3,770.5 L670.0,770.4 L678.7,770.2 L687.3,770.2 L696.0,769.8 L704.7,769.9 L713.4,769.7 L722.1,769.6 L730.8,769.3 L739.5,769.2 L748.2,769.2 L756.9,769.0 L765.6,768.9 L774.3,768.7 L782.9,768.6 L791.6,768.5 L800.3,768.5 L809.0,768.5 L817.7,768.2 L826.4,768.0 L835.1,768.1 L843.8,767.9 L852.5,767.7 L861.2,767.6 L869.9,767.5 L878.5,767.4 L887.2,767.5 L895.9,767.1 L904.6,767.3 L913.3,767.3 L922.0,766.9"/>
<path d="M198.0,1121.6 L198.9,1073.6 L199.9,1040.3 L200.8,1015.5 L201.7,996.1 L202.6,980.3 L203.6,967.3 L204.5,956.2 L205.4,946.6 L206.4,938.3 L207.3,930.9 L208.2,924.3 L209.1,918.4 L210.1,913.0 L211.0,908.1 L211.9,903.6 L212.9,899.5 L213.8,895.7 L214.7,892.2 L215.6,888.9 L216.6,885.8 L217.5,882.9 L218.4,880.2 L219.3,877.6 L220.3,875.2 L221.2,872.9 L222.1,870.8 L223.1,868.7 L224.0,866.7 L224.9,864.9 L225.8,863.1 L226.8,861.4 L227.7,859.8 L228.6,858.2 L229.6,856.7 L230.5,855.3 L231.4,853.9 L232.3,852.6 L233.3,851.3 L234.2,850.0 L235.4,848.5 L244.1,838.9 L252.8,832.1 L261.5,826.2 L270.2,821.7 L278.9,817.7 L287.6,814.4 L296.2,811.5 L304.9,808.7 L313.6,806.6 L322.3,804.6 L331.0,802.7 L339.7,801.0 L348.4,799.4 L357.1,797.9 L365.8,796.7 L374.5,795.5 L383.2,794.4 L391.8,793.2 L400.5,792.5 L409.2,791.4 L417.9,790.7 L426.6,789.9 L435.3,788.9 L444.0,788.3 L452.7,787.6 L461.4,787.0 L470.1,786.2 L478.8,785.5 L487.4,785.1 L496.1,784.5 L504.8,784.1 L513.5,783.4 L522.2,783.1 L530.9,782.3 L539.6,782.1 L548.3,781.7 L557.0,781.2 L565.7,781.1 L574.4,780.6 L583.0,780.3 L591.7,779.9 L600.4,779.3 L609.1,779.3 L617.8,778.5 L626.5,778.4 L635.2,778.0 L643.9,777.9 L652.6,777.8 L661.3,777.5 L670.0,776.9 L678.7,776.8 L687.3,776.5 L696.0,776.3 L704.7,775.9 L713.4,775.7 L722.1,775.5 L730.8,775.3 L739.5,775.0 L748.2,775.0 L756.9,774.8 L765.6,774.6 L774.3,774.4 L782.9,774.3 L791.6,773.8 L800.3,773.7 L809.0,773.3 L817.7,773.4 L826.4,773.1 L835.1,773.0 L843.8,772.7 L852.5,772.6 L861.2,772.5 L869.9,772.3 L878.5,772.3 L887.2,772.1 L895.9,772.0 L904.6,771.6 L913.3,771.7 L922.0,771.5"/>
<path d="M198.0,1182.2 L198.9,1155.9 L199.9,1114.0 L200.8,1082.7 L201.7,1058.2 L202.6,1038.4 L203.6,1021.9 L204.5,1008.0 L205.4,995.9 L206.4,985.4 L207.3,976.1 L208.2,967.8 L209.1,960.3 L210.1,953.5 L211.0,947.4 L211.9,941.7 L212.9,936.5 L213.8,931.7 L214.7,927.2 L215.6,923.1 L216.6,919.2 L217.5,915.6 L218.4,912.1 L219.3,908.9 L220.3,905.9 L221.2,903.0 L222.1,900.3 L223.1,897.7 L224.0,895.2 L224.9,892.8 L225.8,890.6 L226.8,888.5 L227.7,886.4 L228.6,884.4 L229.6,882.5 L230.5,880.7 L231.4,879.0 L232.3,877.3 L233.3,875.7 L234.2,874.1 L235.4,872.3 L244.1,860.4 L252.8,851.2 L261.5,844.1 L270.2,838.3 L278.9,833.1 L287.6,829.0 L296.2,825.4 L304.9,822.1 L313.6,819.1 L322.3,816.6 L331.0,814.4 L339.7,812.3 L348.4,810.2 L357.1,808.7 L365.8,806.9 L374.5,805.3 L383.2,804.1 L391.8,802.7 L400.5,801.4 L409.2,800.3 L417.9,799.0 L426.6,798.2 L435.3,797.1 L444.0,796.2 L452.7,795.5 L461.4,794.5 L470.1,793.6 L478.8,793.1 L487.4,792.4 L496.1,791.7 L504.8,790.8 L513.5,790.3 L522.2,789.8 L530.9,789.3 L539.6,788.6 L548.3,788.2 L557.0,787.4 L565.7,787.1 L574.4,786.7 L583.0,786.0 L591.7,785.6 L600.4,785.1 L609.1,784.9 L617.8,784.3 L626.5,783.9 L635.2,783.6 L643.9,783.1 L652.6,782.7 L661.3,782.5 L670.0,782.0 L678.7,781.8 L687.3,781.5 L696.0,781.1 L704.7,780.8 L713.4,780.4 L722.1,780.2 L730.8,780.0 L739.5,779.7 L748.2,779.3 L756.9,779.3 L765.6,779.1 L774.3,778.7 L782.9,778.4 L791.6,778.1 L800.3,778.0 L809.0,777.9 L817.7,777.7 L826.4,777.3 L835.1,777.1 L843.8,776.8 L852.5,776.5 L861.2,776.5 L869.9,776.0 L878.5,776.0 L887.2,775.8 L895.9,775.6 L904.6,775.6 L913.3,775.0 L922.0,775.1"/>
<path d="M198.0,1182.2 L198.9,1182.2 L199.9,1182.2 L200.8,1169.3 L201.7,1138.2 L202.6,1112.9 L203.6,1091.9 L204.5,1074.1 L205.4,1058.7 L206.4,1045.3 L207.3,1033.4 L208.2,1022.8 L209.1,1013.3 L210.1,1004.7 L211.0,996.8 L211.9,989.6 L212.9,983.0 L213.8,976.9 L214.7,971.2 L215.6,965.9 L216.6,961.0 L217.5,956.3 L218.4,952.0 L219.3,947.8 L220.3,944.0 L221.2,940.3 L222.1,936.8 L223.1,933.5 L224.0,930.4 L224.9,927.4 L225.8,924.5 L226.8,921.8 L227.7,919.1 L228.6,916.6 L229.6,914.2 L230.5,911.9 L231.4,909.7 L232.3,907.6 L233.3,905.5 L234.2,903.5 L235.4,901.0 L244.1,886.1 L252.8,874.4 L261.5,865.2 L270.2,857.8 L278.9,851.5 L287.6,846.1 L296.2,841.3 L304.9,837.3 L313.6,833.4 L322.3,830.2 L331.0,827.3 L339.7,824.5 L348.4,822.1 L357.1,819.6 L365.8,817.6 L374.5,816.0 L383.2,814.1 L391.8,812.6 L400.5,810.7 L409.2,809.3 L417.9,808.0 L426.6,806.8 L435.3,805.3 L444.0,804.1 L452.7,803.2 L461.4,802.2 L470.1,801.2 L478.8,800.1 L487.4,799.2 L496.1,798.4 L504.8,797.5 L513.5,796.9 L522.2,796.0 L530.9,795.4 L539.6,794.4 L548.3,793.8 L557.0,793.1 L565.7,792.6 L574.4,792.0 L583.0,791.5 L591.7,790.8 L600.4,790.2 L609.1,789.7 L617.8,789.0 L626.5,788.5 L635.2,788.2 L643.9,787.7 L652.6,787.1 L661.3,787.0 L670.0,786.3 L678.7,785.8 L687.3,785.4 L696.0,785.1 L704.7,784.6 L713.4,784.3 L722.1,784.0 L730.8,783.5 L739.5,783.2 L748.2,782.7 L756.9,782.3 L765.6,782.0 L774.3,782.1 L782.9,781.5 L791.6,781.1 L800.3,780.8 L809.0,780.6 L817.7,780.3 L826.4,780.0 L835.1,779.8 L843.8,779.6 L852.5,779.1 L861.2,778.9 L869.9,778.8 L878.5,778.3 L887.2,778.3 L895.9,777.9 L904.6,777.8 L913.3,777.5 L922.0,777.3"/>
<path d="M198.0,1182.2 L198.9,1182.2 L199.9,1182.2 L200.8,1182.2 L201.7,1182.2 L202.6,1182.2 L203.6,1176.8 L204.5,1154.4 L205.4,1135.0 L206.4,1118.1 L207.3,1103.1 L208.2,1089.8 L209.1,1077.8 L210.1,1066.9 L211.0,1057.0 L211.9,1047.9 L212.9,1039.6 L213.8,1031.8 L214.7,1024.7 L215.6,1018.0 L216.6,1011.7 L217.5,1005.9 L218.4,1000.4 L219.3,995.2 L220.3,990.3 L221.2,985.7 L222.1,981.3 L223.1,977.1 L224.0,973.2 L224.9,969.4 L225.8,965.8 L226.8,962.3 L227.7,959.0 L228.6,955.9 L229.6,952.8 L230.5,949.9 L231.4,947.1 L232.3,944.4 L233.3,941.8 L234.2,939.3 L235.4,936.2 L244.1,917.5 L252.8,902.7 L261.5,891.1 L270.2,881.6 L278.9,873.7 L287.6,867.0 L296.2,861.1 L304.9,855.8 L313.6,851.2 L322.3,847.0 L331.0,843.2 L339.7,839.8 L348.4,836.7 L357.1,833.9 L365.8,831.2 L374.5,828.8 L383.2,826.7 L391.8,824.4 L400.5,822.5 L409.2,820.6 L417.9,818.8 L426.6,817.2 L435.3,815.6 L444.0,814.0 L452.7,812.7 L461.4,811.4 L470.1,810.2 L478.8,809.2 L487.4,808.1 L496.1,806.9 L504.8,805.4 L513.5,804.7 L522.2,803.8 L530.9,802.7 L539.6,801.8 L548.3,801.0 L557.0,800.1 L565.7,799.3 L574.4,798.6 L583.0,797.9 L591.7,797.4 L600.4,796.4 L609.1,795.8 L617.8,795.1 L626.5,794.3 L635.2,794.0 L643.9,793.4 L652.6,792.6 L661.3,792.3 L670.0,791.5 L678.7,791.0 L687.3,790.4 L696.0,790.1 L704.7,789.4 L713.4,789.1 L722.1,788.4 L730.8,788.1 L739.5,787.7 L748.2,787.1 L756.9,786.6 L765.6,786.4 L774.3,785.9 L782.9,785.7 L791.6,785.0 L800.3,784.7 L809.0,784.5 L817.7,784.0 L826.4,783.8 L835.1,783.3 L843.8,782.8 L852.5,782.7 L861.2,782.3 L869.9,782.1 L878.5,781.4 L887.2,781.5 L895.9,781.0 L904.6,780.8 L913.3,780.3 L922.0,780.2"/>
<path d="M198.0,1182.2 L198.9,1182.2 L199.9,1182.2 L200.8,1182.2 L201.7,1182.2 L202.6,1182.2 L203.6,1182.2 L204.5,1182.2 L205.4,1179.8 L206.4,1160.9 L207.3,1144.2 L208.2,1129.2 L209.1,1115.8 L210.1,1103.7 L211.0,1092.6 L211.9,1082.4 L212.9,1073.1 L213.8,1064.5 L214.7,1056.4 L215.6,1049.0 L216.6,1042.0 L217.5,1035.5 L218.4,1029.3 L219.3,1023.5 L220.3,1018.0 L221.2,1012.9 L222.1,1008.0 L223.1,1003.3 L224.0,998.9 L224.9,994.6 L225.8,990.6 L226.8,986.8 L227.7,983.1 L228.6,979.5 L229.6,976.1 L230.5,972.9 L231.4,969.8 L232.3,966.7 L233.3,963.8 L234.2,961.0 L235.4,957.5 L244.1,936.3 L252.8,920.2 L261.5,907.0 L270.2,896.5 L278.9,887.4 L287.6,880.1 L296.2,873.3 L304.9,867.4 L313.6,862.4 L322.3,857.7 L331.0,853.6 L339.7,849.8 L348.4,846.3 L357.1,843.4 L365.8,840.1 L374.5,837.5 L383.2,835.1 L391.8,832.5 L400.5,830.6 L409.2,828.4 L417.9,826.2 L426.6,824.5 L435.3,822.8 L444.0,821.0 L452.7,819.6 L461.4,818.1 L470.1,816.7 L478.8,815.2 L487.4,814.0 L496.1,812.9 L504.8,811.7 L513.5,810.4 L522.2,809.3 L530.9,808.3 L539.6,807.2 L548.3,806.3 L557.0,805.6 L565.7,804.6 L574.4,803.4 L583.0,802.9 L591.7,801.9 L600.4,801.4 L609.1,800.1 L617.8,799.8 L626.5,799.0 L635.2,798.3 L643.9,797.8 L652.6,797.0 L661.3,796.2 L670.0,795.8 L678.7,795.0 L687.3,794.6 L696.0,793.9 L704.7,793.2 L713.4,793.0 L722.1,792.3 L730.8,791.9 L739.5,791.5 L748.2,790.9 L756.9,790.4 L765.6,789.9 L774.3,789.4 L782.9,789.3 L791.6,788.6 L800.3,788.4 L809.0,787.7 L817.7,787.2 L826.4,786.9 L835.1,786.6 L843.8,786.1 L852.5,785.7 L861.2,785.3 L869.9,785.1 L878.5,784.7 L887.2,784.2 L895.9,784.0 L904.6,783.6 L913.3,783.3 L922.0,782.9"/>
<path d="M198.0,1182.2 L198.9,1182.2 L199.9,1182.2 L200.8,1182.2 L201.7,1182.2 L202.6,1182.2 L203.6,1182.2 L204.5,1182.2 L205.4,1182.2 L206.4,1182.2 L207.3,1177.0 L208.2,1160.9 L209.1,1146.3 L210.1,1133.2 L211.0,1121.2 L211.9,1110.2 L212.9,1100.1 L213.8,1090.7 L214.7,1082.0 L215.6,1073.9 L216.6,1066.4 L217.5,1059.3 L218.4,1052.6 L219.3,1046.4 L220.3,1040.4 L221.2,1034.8 L222.1,1029.5 L223.1,1024.5 L224.0,1019.7 L224.9,1015.1 L225.8,1010.7 L226.8,1006.6 L227.7,1002.6 L228.6,998.7 L229.6,995.1 L230.5,991.5 L231.4,988.1 L232.3,984.9 L233.3,981.7 L234.2,978.7 L235.4,974.8 L244.1,952.1 L252.8,934.3 L261.5,920.5 L270.2,908.8 L278.9,899.0 L287.6,891.0 L296.2,883.6 L304.9,877.5 L313.6,871.8 L322.3,866.6 L331.0,862.2 L339.7,858.2 L348.4,854.7 L357.1,851.1 L365.8,847.8 L374.5,845.0 L383.2,842.3 L391.8,839.5 L400.5,837.4 L409.2,835.1 L417.9,832.8 L426.6,830.6 L435.3,829.1 L444.0,827.2 L452.7,825.4 L461.4,824.0 L470.1,822.4 L478.8,820.8 L487.4,819.6 L496.1,818.2 L504.8,816.7 L513.5,815.9 L522.2,814.3 L530.9,813.2 L539.6,812.3 L548.3,811.1 L557.0,810.2 L565.7,809.3 L574.4,808.3 L583.0,807.5 L591.7,806.3 L600.4,805.8 L609.1,805.0 L617.8,804.1 L626.5,803.3 L635.2,802.3 L643.9,801.8 L652.6,801.2 L661.3,800.5 L670.0,799.8 L678.7,799.3 L687.3,798.4 L696.0,797.9 L704.7,797.3 L713.4,796.5 L722.1,795.9 L730.8,795.4 L739.5,795.1 L748.2,794.4 L756.9,794.0 L765.6,793.4 L774.3,792.9 L782.9,792.5 L791.6,791.8 L800.3,791.6 L809.0,790.9 L817.7,790.5 L826.4,790.2 L835.1,789.7 L843.8,789.4 L852.5,788.9 L861.2,788.4 L869.9,788.1 L878.5,787.2 L887.2,787.5 L895.9,787.1 L904.6,786.5 L913.3,786.3 L922.0,786.0"/>
<path d="M198.0,1182.2 L198.9,1182.2 L199.9,1182.2 L200.8,1182.2 L201.7,1182.2 L202.6,1182.2 L203.6,1182.2 L204.5,1182.2 L205.4,1182.2 L206.4,1182.2 L207.3,1182.2 L208.2,1180.7 L209.1,1165.6 L210.1,1151.8 L211.0,1139.3 L211.9,1127.8 L212.9,1117.2 L213.8,1107.4 L214.7,1098.3 L215.6,1089.9 L216.6,1082.0 L217.5,1074.6 L218.4,1067.6 L219.3,1061.1 L220.3,1054.9 L221.2,1049.0 L222.1,1043.5 L223.1,1038.2 L224.0,1033.2 L224.9,1028.4 L225.8,1023.8 L226.8,1019.4 L227.7,1015.3 L228.6,1011.3 L229.6,1007.4 L230.5,1003.7 L231.4,1000.2 L232.3,996.8 L233.3,993.5 L234.2,990.3 L235.4,986.5 L244.1,962.5 L252.8,944.0 L261.5,929.3 L270.2,917.4 L278.9,907.2 L287.6,898.5 L296.2,891.2 L304.9,884.5 L313.6,878.6 L322.3,873.6 L331.0,868.8 L339.7,864.7 L348.4,860.3 L357.1,856.9 L365.8,853.6 L374.5,850.4 L383.2,847.4 L391.8,844.9 L400.5,842.2 L409.2,839.9 L417.9,837.4 L426.6,835.9 L435.3,833.9 L444.0,832.0 L452.7,830.1 L461.4,828.6 L470.1,826.8 L478.8,825.6 L487.4,823.8 L496.1,822.5 L504.8,821.0 L513.5,819.8 L522.2,818.6 L530.9,817.4 L539.6,816.6 L548.3,815.3 L557.0,814.2 L565.7,813.0 L574.4,812.2 L583.0,811.4 L591.7,810.1 L600.4,809.6 L609.1,808.6 L617.8,807.9 L626.5,807.3 L635.2,806.1 L643.9,805.5 L652.6,804.6 L661.3,804.0 L670.0,803.2 L678.7,802.4 L687.3,801.8 L696.0,801.3 L704.7,800.7 L713.4,800.0 L722.1,799.6 L730.8,798.8 L739.5,798.2 L748.2,797.9 L756.9,797.3 L765.6,796.4 L774.3,796.1 L782.9,795.4 L791.6,795.1 L800.3,794.6 L809.0,794.1 L817.7,793.5 L826.4,793.1 L835.1,792.8 L843.8,792.6 L852.5,792.1 L861.2,791.5 L869.9,791.2 L878.5,790.6 L887.2,790.3 L895.9,789.9 L904.6,789.5 L913.3,789.1 L922.0,788.7"/>
<path d="M198.0,1182.2 L198.9,1182.2 L199.9,1182.2 L200.8,1182.2 L201.7,1182.2 L202.6,1182.2 L203.6,1182.2 L204.5,1182.2 L205.4,1182.2 L206.4,1182.2 L207.3,1182.2 L208.2,1182.2 L209.1,1181.0 L210.1,1166.8 L211.0,1153.8 L211.9,1142.0 L212.9,1131.0 L213.8,1120.9 L214.7,1111.6 L215.6,1102.8 L216.6,1094.6 L217.5,1087.0 L218.4,1079.8 L219.3,1073.0 L220.3,1066.6 L221.2,1060.6 L222.1,1054.8 L223.1,1049.4 L224.0,1044.2 L224.9,1039.3 L225.8,1034.5 L226.8,1030.0 L227.7,1025.7 L228.6,1021.6 L229.6,1017.6 L230.5,1013.8 L231.4,1010.1 L232.3,1006.6 L233.3,1003.2 L234.2,999.9 L235.4,995.7 L244.1,970.9 L252.8,952.2 L261.5,937.0 L270.2,924.4 L278.9,914.1 L287.6,905.0 L296.2,897.4 L304.9,890.6 L313.6,884.5 L322.3,879.2 L331.0,874.3 L339.7,869.9 L348.4,865.6 L357.1,862.0 L365.8,858.8 L374.5,855.3 L383.2,852.4 L391.8,849.6 L400.5,847.1 L409.2,844.7 L417.9,842.6 L426.6,840.2 L435.3,838.4 L444.0,836.3 L452.7,834.2 L461.4,832.7 L470.1,831.0 L478.8,829.5 L487.4,827.9 L496.1,826.7 L504.8,825.2 L513.5,823.8 L522.2,822.6 L530.9,821.5 L539.6,820.4 L548.3,819.1 L557.0,818.0 L565.7,817.0 L574.4,815.8 L583.0,815.1 L591.7,813.9 L600.4,813.2 L609.1,811.9 L617.8,811.1 L626.5,810.4 L635.2,809.7 L643.9,808.8 L652.6,808.1 L661.3,807.4 L670.0,806.7 L678.7,805.8 L687.3,805.2 L696.0,804.3 L704.7,803.8 L713.4,803.3 L722.1,802.6 L730.8,802.0 L739.5,801.6 L748.2,800.8 L756.9,800.4 L765.6,799.6 L774.3,799.1 L782.9,799.0 L791.6,798.2 L800.3,797.8 L809.0,797.0 L817.7,796.8 L826.4,796.2 L835.1,795.7 L843.8,795.5 L852.5,794.9 L861.2,794.3 L869.9,794.1 L878.5,793.6 L887.2,793.3 L895.9,792.6 L904.6,792.2 L913.3,792.1 L922.0,791.7"/>
<path d="M198.0,1182.2 L198.9,1182.2 L199.9,1182.2 L200.8,1182.2 L201.7,1182.2 L202.6,1182.2 L203.6,1182.2 L204.5,1182.2 L205.4,1182.2 L206.4,1182.2 L207.3,1182.2 L208.2,1182.2 L209.1,1182.2 L210.1,1182.2 L211.0,1172.1 L211.9,1159.7 L212.9,1148.3 L213.8,1137.8 L214.7,1128.1 L215.6,1119.0 L216.6,1110.5 L217.5,1102.5 L218.4,1095.0 L219.3,1088.0 L220.3,1081.3 L221.2,1075.0 L222.1,1069.1 L223.1,1063.4 L224.0,1058.0 L224.9,1052.9 L225.8,1047.9 L226.8,1043.3 L227.7,1038.8 L228.6,1034.5 L229.6,1030.3 L230.5,1026.4 L231.4,1022.6 L232.3,1018.9 L233.3,1015.4 L234.2,1012.0 L235.4,1007.5 L244.1,981.9 L252.8,962.2 L261.5,946.3 L270.2,933.3 L278.9,922.7 L287.6,913.3 L296.2,905.3 L304.9,898.2 L313.6,892.0 L322.3,886.2 L331.0,881.1 L339.7,876.3 L348.4,872.6 L357.1,868.3 L365.8,864.9 L374.5,861.7 L383.2,858.7 L391.8,855.5 L400.5,853.2 L409.2,850.2 L417.9,848.2 L426.6,845.8 L435.3,843.8 L444.0,841.9 L452.7,839.9 L461.4,837.8 L470.1,836.2 L478.8,834.6 L487.4,832.9 L496.1,831.4 L504.8,830.2 L513.5,828.7 L522.2,827.4 L530.9,826.2 L539.6,825.2 L548.3,823.6 L557.0,822.5 L565.7,821.6 L574.4,820.0 L583.0,819.6 L591.7,818.5 L600.4,817.5 L609.1,816.7 L617.8,815.7 L626.5,814.6 L635.2,814.1 L643.9,813.4 L652.6,812.4 L661.3,811.7 L670.0,810.9 L678.7,810.2 L687.3,809.4 L696.0,808.4 L704.7,808.0 L713.4,807.1 L722.1,806.7 L730.8,806.2 L739.5,805.7 L748.2,804.9 L756.9,804.2 L765.6,803.4 L774.3,803.4 L782.9,802.7 L791.6,802.1 L800.3,801.6 L809.0,801.1 L817.7,800.7 L826.4,800.1 L835.1,799.7 L843.8,799.3 L852.5,798.7 L861.2,798.1 L869.9,797.9 L878.5,797.6 L887.2,797.0 L895.9,796.5 L904.6,796.1 L913.3,795.6 L922.0,795.4"/>
<path d="M198.0,1182.2 L198.9,1182.2 L199.9,1182.2 L200.8,1182.2 L201.7,1182.2 L202.6,1182.2 L203.6,1182.2 L204.5,1182.2 L205.4,1182.2 L206.4,1182.2 L207.3,1182.2 L208.2,1182.2 L209.1,1182.2 L210.1,1182.2 L211.0,1182.2 L211.9,1182.2 L212.9,1182.2 L213.8,1176.0 L214.7,1165.2 L215.6,1155.2 L216.6,1145.9 L217.5,1137.1 L218.4,1128.9 L219.3,1121.1 L220.3,1113.8 L221.2,1106.8 L222.1,1100.3 L223.1,1094.0 L224.0,1088.1 L224.9,1082.4 L225.8,1077.0 L226.8,1071.9 L227.7,1066.9 L228.6,1062.2 L229.6,1057.6 L230.5,1053.3 L231.4,1049.1 L232.3,1045.0 L233.3,1041.2 L234.2,1037.4 L235.4,1032.8 L244.1,1004.3 L252.8,982.8 L261.5,965.3 L270.2,951.1 L278.9,939.0 L287.6,928.9 L296.2,920.0 L304.9,912.1 L313.6,905.5 L322.3,898.9 L331.0,893.7 L339.7,888.4 L348.4,883.9 L357.1,879.5 L365.8,875.6 L374.5,871.8 L383.2,868.7 L391.8,865.2 L400.5,862.3 L409.2,859.5 L417.9,857.1 L426.6,854.4 L435.3,852.2 L444.0,849.9 L452.7,847.9 L461.4,845.8 L470.1,843.9 L478.8,842.2 L487.4,840.7 L496.1,838.8 L504.8,837.2 L513.5,835.8 L522.2,834.3 L530.9,833.1 L539.6,831.5 L548.3,830.4 L557.0,828.9 L565.7,827.7 L574.4,826.4 L583.0,825.3 L591.7,824.3 L600.4,823.3 L609.1,822.1 L617.8,821.6 L626.5,820.5 L635.2,819.3 L643.9,818.7 L652.6,817.8 L661.3,816.9 L670.0,815.9 L678.7,815.1 L687.3,814.3 L696.0,813.7 L704.7,812.9 L713.4,812.1 L722.1,811.5 L730.8,810.7 L739.5,810.3 L748.2,809.3 L756.9,808.8 L765.6,808.2 L774.3,807.7 L782.9,807.3 L791.6,806.3 L800.3,805.9 L809.0,805.3 L817.7,804.7 L826.4,804.1 L835.1,803.7 L843.8,802.9 L852.5,802.6 L861.2,802.2 L869.9,801.7 L878.5,800.9 L887.2,800.8 L895.9,800.3 L904.6,799.9 L913.3,799.3 L922.0,798.9"/>
<path d="M198.0,1182.2 L198.9,1182.2 L199.9,1182.2 L200.8,1182.2 L201.7,1182.2 L202.6,1182.2 L203.6,1182.2 L204.5,1182.2 L205.4,1182.2 L206.4,1182.2 L207.3,1182.2 L208.2,1182.2 L209.1,1182.2 L210.1,1182.2 L211.0,1182.2 L211.9,1182.2 L212.9,1182.2 L213.8,1182.2 L214.7,1182.2 L215.6,1174.6 L216.6,1164.9 L217.5,1155.7 L218.4,1147.1 L219.3,1139.1 L220.3,1131.4 L221.2,1124.2 L222.1,1117.3 L223.1,1110.8 L224.0,1104.6 L224.9,1098.7 L225.8,1093.1 L226.8,1087.7 L227.7,1082.6 L228.6,1077.6 L229.6,1072.9 L230.5,1068.4 L231.4,1064.0 L232.3,1059.8 L233.3,1055.7 L234.2,1051.8 L235.4,1046.8 L244.1,1017.3 L252.8,994.6 L261.5,976.6 L270.2,961.8 L278.9,949.4 L287.6,938.8 L296.2,929.4 L304.9,921.2 L313.6,914.3 L322.3,907.6 L331.0,901.7 L339.7,896.6 L348.4,891.5 L357.1,887.1 L365.8,883.3 L374.5,879.4 L383.2,875.6 L391.8,872.4 L400.5,869.4 L409.2,866.5 L417.9,864.1 L426.6,861.2 L435.3,859.0 L444.0,856.5 L452.7,854.3 L461.4,852.2 L470.1,850.2 L478.8,848.4 L487.4,846.7 L496.1,844.9 L504.8,843.1 L513.5,841.4 L522.2,840.2 L530.9,838.6 L539.6,837.1 L548.3,835.8 L557.0,834.6 L565.7,833.2 L574.4,831.9 L583.0,830.9 L591.7,829.9 L600.4,828.9 L609.1,827.6 L617.8,826.5 L626.5,825.7 L635.2,824.7 L643.9,823.8 L652.6,822.6 L661.3,822.0 L670.0,821.0 L678.7,820.3 L687.3,819.3 L696.0,818.6 L704.7,817.7 L713.4,817.1 L722.1,816.4 L730.8,815.7 L739.5,815.0 L748.2,814.1 L756.9,813.6 L765.6,813.1 L774.3,812.3 L782.9,811.7 L791.6,811.3 L800.3,810.5 L809.0,809.9 L817.7,809.4 L826.4,808.8 L835.1,808.3 L843.8,807.8 L852.5,806.9 L861.2,806.8 L869.9,806.0 L878.5,805.5 L887.2,805.1 L895.9,804.9 L904.6,804.0 L913.3,803.8 L922.0,803.0"/>
<path d="M198.0,1182.2 L198.9,1182.2 L199.9,1182.2 L200.8,1182.2 L201.7,1182.2 L202.6,1182.2 L203.6,1182.2 L204.5,1182.2 L205.4,1182.2 L206.4,1182.2 L207.3,1182.2 L208.2,1182.2 L209.1,1182.2 L210.1,1182.2 L211.0,1182.2 L211.9,1182.2 L212.9,1182.2 L213.8,1182.2 L214.7,1182.2 L215.6,1182.2 L216.6,1182.2 L217.5,1182.2 L218.4,1181.0 L219.3,1172.2 L220.3,1163.9 L221.2,1156.0 L222.1,1148.5 L223.1,1141.5 L224.0,1134.7 L224.9,1128.3 L225.8,1122.2 L226.8,1116.3 L227.7,1110.7 L228.6,1105.3 L229.6,1100.1 L230.5,1095.2 L231.4,1090.4 L232.3,1085.8 L233.3,1081.4 L234.2,1077.2 L235.4,1071.9 L244.1,1039.4 L252.8,1014.9 L261.5,995.3 L270.2,979.2 L278.9,965.7 L287.6,953.9 L296.2,943.9 L304.9,935.1 L313.6,927.0 L322.3,920.0 L331.0,913.8 L339.7,908.1 L348.4,902.6 L357.1,897.7 L365.8,893.4 L374.5,889.2 L383.2,885.4 L391.8,881.7 L400.5,878.4 L409.2,875.3 L417.9,872.4 L426.6,869.6 L435.3,866.9 L444.0,864.4 L452.7,862.1 L461.4,859.9 L470.1,857.6 L478.8,855.6 L487.4,853.6 L496.1,851.6 L504.8,849.8 L513.5,848.1 L522.2,846.8 L530.9,844.8 L539.6,843.6 L548.3,841.9 L557.0,840.6 L565.7,839.1 L574.4,838.0 L583.0,836.5 L591.7,835.6 L600.4,834.0 L609.1,833.1 L617.8,831.6 L626.5,830.9 L635.2,829.8 L643.9,828.8 L652.6,827.7 L661.3,826.8 L670.0,825.9 L678.7,825.0 L687.3,824.1 L696.0,823.0 L704.7,822.4 L713.4,821.5 L722.1,820.8 L730.8,820.0 L739.5,819.1 L748.2,818.4 L756.9,817.8 L765.6,816.9 L774.3,816.3 L782.9,815.6 L791.6,814.7 L800.3,814.3 L809.0,813.8 L817.7,812.9 L826.4,812.5 L835.1,811.9 L843.8,811.3 L852.5,810.6 L861.2,810.3 L869.9,809.6 L878.5,809.1 L887.2,808.4 L895.9,807.9 L904.6,807.5 L913.3,806.9 L922.0,806.6" stroke-width="3"/>
</g>
<text x="604.5" y="906.8" font-size="43" text-anchor="start" fill="#000" >0 mmol L<tspan dy="-15.3" font-size="27.5">−1</tspan></text>
<text x="589.5" y="1054.7" font-size="43" text-anchor="start" fill="#000" >10 mmol L<tspan dy="-15.3" font-size="27.5">−1</tspan></text>
<path d="M701.3,948.7 L723.7,948.7 L723.7,977.7 L733.9,977.7 L712.3,998.9 L690.3,977.7 L701.3,977.7 Z" fill="#000"/>
<path d="M1270.3,762 L1219.8,835.6 L1529.7,1030.1 L1579.1,954.3 Z" fill="none" stroke="#000" stroke-width="4.6" stroke-dasharray="4.8 7.8"/>
<circle cx="1173.4" cy="682.7" r="10.4" fill="none" stroke="#000" stroke-width="3.2"/>
<line x1="1173.4" y1="678.7" x2="1173.4" y2="686.7" stroke="#000" stroke-width="2" />
<line x1="1170.4" y1="678.7" x2="1176.4" y2="678.7" stroke="#000" stroke-width="2" />
<line x1="1170.4" y1="686.7" x2="1176.4" y2="686.7" stroke="#000" stroke-width="2" />
<circle cx="1174.7" cy="685.1" r="10.4" fill="none" stroke="#000" stroke-width="3.2"/>
<line x1="1174.7" y1="681.1" x2="1174.7" y2="689.1" stroke="#000" stroke-width="2" />
<line x1="1171.7" y1="681.1" x2="1177.7" y2="681.1" stroke="#000" stroke-width="2" />
<line x1="1171.7" y1="689.1" x2="1177.7" y2="689.1" stroke="#000" stroke-width="2" />
<circle cx="1176.7" cy="687.3" r="10.4" fill="none" stroke="#000" stroke-width="3.2"/>
<line x1="1176.7" y1="683.3" x2="1176.7" y2="691.3" stroke="#000" stroke-width="2" />
<line x1="1173.7" y1="683.3" x2="1179.7" y2="683.3" stroke="#000" stroke-width="2" />
<line x1="1173.7" y1="691.3" x2="1179.7" y2="691.3" stroke="#000" stroke-width="2" />
<circle cx="1178.7" cy="688.6" r="10.4" fill="none" stroke="#000" stroke-width="3.2"/>
<line x1="1178.7" y1="684.6" x2="1178.7" y2="692.6" stroke="#000" stroke-width="2" />
<line x1="1175.7" y1="684.6" x2="1181.7" y2="684.6" stroke="#000" stroke-width="2" />
<line x1="1175.7" y1="692.6" x2="1181.7" y2="692.6" stroke="#000" stroke-width="2" />
<circle cx="1180.1" cy="690.3" r="10.4" fill="none" stroke="#000" stroke-width="3.2"/>
<line x1="1180.1" y1="686.3" x2="1180.1" y2="694.3" stroke="#000" stroke-width="2" />
<line x1="1177.1" y1="686.3" x2="1183.1" y2="686.3" stroke="#000" stroke-width="2" />
<line x1="1177.1" y1="694.3" x2="1183.1" y2="694.3" stroke="#000" stroke-width="2" />
<circle cx="1181.4" cy="692.7" r="10.4" fill="none" stroke="#000" stroke-width="3.2"/>
<line x1="1181.4" y1="688.7" x2="1181.4" y2="696.7" stroke="#000" stroke-width="2" />
<line x1="1178.4" y1="688.7" x2="1184.4" y2="688.7" stroke="#000" stroke-width="2" />
<line x1="1178.4" y1="696.7" x2="1184.4" y2="696.7" stroke="#000" stroke-width="2" />
<circle cx="1183.4" cy="695.6" r="10.4" fill="none" stroke="#000" stroke-width="3.2"/>
<line x1="1183.4" y1="691.6" x2="1183.4" y2="699.6" stroke="#000" stroke-width="2" />
<line x1="1180.4" y1="691.6" x2="1186.4" y2="691.6" stroke="#000" stroke-width="2" />
<line x1="1180.4" y1="699.6" x2="1186.4" y2="699.6" stroke="#000" stroke-width="2" />
<circle cx="1186.8" cy="699.7" r="10.4" fill="none" stroke="#000" stroke-width="3.2"/>
<line x1="1186.8" y1="695.7" x2="1186.8" y2="703.7" stroke="#000" stroke-width="2" />
<line x1="1183.8" y1="695.7" x2="1189.8" y2="695.7" stroke="#000" stroke-width="2" />
<line x1="1183.8" y1="703.7" x2="1189.8" y2="703.7" stroke="#000" stroke-width="2" />
<circle cx="1190.1" cy="706.1" r="10.4" fill="none" stroke="#000" stroke-width="3.2"/>
<line x1="1190.1" y1="702.1" x2="1190.1" y2="710.1" stroke="#000" stroke-width="2" />
<line x1="1187.1" y1="702.1" x2="1193.1" y2="702.1" stroke="#000" stroke-width="2" />
<line x1="1187.1" y1="710.1" x2="1193.1" y2="710.1" stroke="#000" stroke-width="2" />
<circle cx="1193.4" cy="712.6" r="10.4" fill="none" stroke="#000" stroke-width="3.2"/>
<line x1="1193.4" y1="708.6" x2="1193.4" y2="716.6" stroke="#000" stroke-width="2" />
<line x1="1190.4" y1="708.6" x2="1196.4" y2="708.6" stroke="#000" stroke-width="2" />
<line x1="1190.4" y1="716.6" x2="1196.4" y2="716.6" stroke="#000" stroke-width="2" />
<circle cx="1196.8" cy="717.3" r="10.4" fill="none" stroke="#000" stroke-width="3.2"/>
<line x1="1196.8" y1="713.3" x2="1196.8" y2="721.3" stroke="#000" stroke-width="2" />
<line x1="1193.8" y1="713.3" x2="1199.8" y2="713.3" stroke="#000" stroke-width="2" />
<line x1="1193.8" y1="721.3" x2="1199.8" y2="721.3" stroke="#000" stroke-width="2" />
<circle cx="1200.1" cy="721.9" r="10.4" fill="none" stroke="#000" stroke-width="3.2"/>
<line x1="1200.1" y1="717.9" x2="1200.1" y2="725.9" stroke="#000" stroke-width="2" />
<line x1="1197.1" y1="717.9" x2="1203.1" y2="717.9" stroke="#000" stroke-width="2" />
<line x1="1197.1" y1="725.9" x2="1203.1" y2="725.9" stroke="#000" stroke-width="2" />
<circle cx="1206.8" cy="736.0" r="10.4" fill="none" stroke="#000" stroke-width="3.2"/>
<line x1="1206.8" y1="732.0" x2="1206.8" y2="740.0" stroke="#000" stroke-width="2" />
<line x1="1203.8" y1="732.0" x2="1209.8" y2="732.0" stroke="#000" stroke-width="2" />
<line x1="1203.8" y1="740.0" x2="1209.8" y2="740.0" stroke="#000" stroke-width="2" />
<circle cx="1213.5" cy="748.9" r="10.4" fill="none" stroke="#000" stroke-width="3.2"/>
<line x1="1213.5" y1="744.9" x2="1213.5" y2="752.9" stroke="#000" stroke-width="2" />
<line x1="1210.5" y1="744.9" x2="1216.5" y2="744.9" stroke="#000" stroke-width="2" />
<line x1="1210.5" y1="752.9" x2="1216.5" y2="752.9" stroke="#000" stroke-width="2" />
<circle cx="1220.1" cy="761.2" r="10.4" fill="none" stroke="#000" stroke-width="3.2"/>
<line x1="1220.1" y1="757.2" x2="1220.1" y2="765.2" stroke="#000" stroke-width="2" />
<line x1="1217.1" y1="757.2" x2="1223.1" y2="757.2" stroke="#000" stroke-width="2" />
<line x1="1217.1" y1="765.2" x2="1223.1" y2="765.2" stroke="#000" stroke-width="2" />
<circle cx="1226.8" cy="775.2" r="10.4" fill="none" stroke="#000" stroke-width="3.2"/>
<line x1="1226.8" y1="771.2" x2="1226.8" y2="779.2" stroke="#000" stroke-width="2" />
<line x1="1223.8" y1="771.2" x2="1229.8" y2="771.2" stroke="#000" stroke-width="2" />
<line x1="1223.8" y1="779.2" x2="1229.8" y2="779.2" stroke="#000" stroke-width="2" />
<circle cx="1240.2" cy="791.0" r="10.4" fill="none" stroke="#000" stroke-width="3.2"/>
<line x1="1240.2" y1="787.0" x2="1240.2" y2="795.0" stroke="#000" stroke-width="2" />
<line x1="1237.2" y1="787.0" x2="1243.2" y2="787.0" stroke="#000" stroke-width="2" />
<line x1="1237.2" y1="795.0" x2="1243.2" y2="795.0" stroke="#000" stroke-width="2" />
<circle cx="1253.5" cy="801.5" r="10.4" fill="none" stroke="#000" stroke-width="3.2"/>
<circle cx="1266.9" cy="810.3" r="10.4" fill="none" stroke="#000" stroke-width="3.2"/>
<circle cx="1280.2" cy="815.8" r="10.4" fill="none" stroke="#000" stroke-width="3.2"/>
<circle cx="1307.0" cy="829.0" r="10.4" fill="none" stroke="#000" stroke-width="3.2"/>
<circle cx="1333.7" cy="845.5" r="10.4" fill="none" stroke="#000" stroke-width="3.2"/>
<circle cx="1360.4" cy="863.1" r="10.4" fill="none" stroke="#000" stroke-width="3.2"/>
<circle cx="1387.1" cy="885.0" r="10.4" fill="none" stroke="#000" stroke-width="3.2"/>
<circle cx="1413.8" cy="913.6" r="10.4" fill="none" stroke="#000" stroke-width="3.2"/>
<line x1="1413.8" y1="902.1" x2="1413.8" y2="925.1" stroke="#000" stroke-width="2.9" />
<line x1="1407.8" y1="902.1" x2="1419.8" y2="902.1" stroke="#000" stroke-width="2.9" />
<line x1="1407.8" y1="925.1" x2="1419.8" y2="925.1" stroke="#000" stroke-width="2.9" />
<circle cx="1440.5" cy="936.3" r="10.4" fill="none" stroke="#000" stroke-width="3.2"/>
<line x1="1440.5" y1="921.3" x2="1440.5" y2="951.3" stroke="#000" stroke-width="2.9" />
<line x1="1434.5" y1="921.3" x2="1446.5" y2="921.3" stroke="#000" stroke-width="2.9" />
<line x1="1434.5" y1="951.3" x2="1446.5" y2="951.3" stroke="#000" stroke-width="2.9" />
<circle cx="1473.9" cy="952.1" r="10.4" fill="none" stroke="#000" stroke-width="3.2"/>
<line x1="1473.9" y1="933.4" x2="1473.9" y2="970.8" stroke="#000" stroke-width="2.9" />
<line x1="1467.9" y1="933.4" x2="1479.9" y2="933.4" stroke="#000" stroke-width="2.9" />
<line x1="1467.9" y1="970.8" x2="1479.9" y2="970.8" stroke="#000" stroke-width="2.9" />
<circle cx="1507.3" cy="962.0" r="10.4" fill="none" stroke="#000" stroke-width="3.2"/>
<line x1="1507.3" y1="940.0" x2="1507.3" y2="984.0" stroke="#000" stroke-width="2.9" />
<line x1="1501.3" y1="940.0" x2="1513.3" y2="940.0" stroke="#000" stroke-width="2.9" />
<line x1="1501.3" y1="984.0" x2="1513.3" y2="984.0" stroke="#000" stroke-width="2.9" />
<circle cx="1540.7" cy="971.9" r="10.4" fill="none" stroke="#000" stroke-width="3.2"/>
<line x1="1540.7" y1="952.1" x2="1540.7" y2="991.6" stroke="#000" stroke-width="2.9" />
<line x1="1534.7" y1="952.1" x2="1546.7" y2="952.1" stroke="#000" stroke-width="2.9" />
<line x1="1534.7" y1="991.6" x2="1546.7" y2="991.6" stroke="#000" stroke-width="2.9" />
<circle cx="1574.1" cy="985.5" r="10.4" fill="none" stroke="#000" stroke-width="3.2"/>
<line x1="1574.1" y1="963.0" x2="1574.1" y2="1008.0" stroke="#000" stroke-width="2.9" />
<line x1="1568.1" y1="963.0" x2="1580.1" y2="963.0" stroke="#000" stroke-width="2.9" />
<line x1="1568.1" y1="1008.0" x2="1580.1" y2="1008.0" stroke="#000" stroke-width="2.9" />
<circle cx="1640.9" cy="998.8" r="10.4" fill="none" stroke="#000" stroke-width="3.2"/>
<line x1="1640.9" y1="969.1" x2="1640.9" y2="1028.5" stroke="#000" stroke-width="2.9" />
<line x1="1634.9" y1="969.1" x2="1646.9" y2="969.1" stroke="#000" stroke-width="2.9" />
<line x1="1634.9" y1="1028.5" x2="1646.9" y2="1028.5" stroke="#000" stroke-width="2.9" />
<circle cx="1707.6" cy="1011.2" r="10.4" fill="none" stroke="#000" stroke-width="3.2"/>
<line x1="1707.6" y1="982.7" x2="1707.6" y2="1039.7" stroke="#000" stroke-width="2.9" />
<line x1="1701.6" y1="982.7" x2="1713.6" y2="982.7" stroke="#000" stroke-width="2.9" />
<line x1="1701.6" y1="1039.7" x2="1713.6" y2="1039.7" stroke="#000" stroke-width="2.9" />
<circle cx="1774.4" cy="1020.4" r="10.4" fill="none" stroke="#000" stroke-width="3.2"/>
<line x1="1774.4" y1="990.4" x2="1774.4" y2="1050.4" stroke="#000" stroke-width="2.9" />
<line x1="1768.4" y1="990.4" x2="1780.4" y2="990.4" stroke="#000" stroke-width="2.9" />
<line x1="1768.4" y1="1050.4" x2="1780.4" y2="1050.4" stroke="#000" stroke-width="2.9" />
<circle cx="1841.2" cy="1029.6" r="10.4" fill="none" stroke="#000" stroke-width="3.2"/>
<line x1="1841.2" y1="1002.0" x2="1841.2" y2="1057.2" stroke="#000" stroke-width="2.9" />
<line x1="1835.2" y1="1002.0" x2="1847.2" y2="1002.0" stroke="#000" stroke-width="2.9" />
<line x1="1835.2" y1="1057.2" x2="1847.2" y2="1057.2" stroke="#000" stroke-width="2.9" />
<line x1="1240.2" y1="789.9" x2="1540.7" y2="984.9" stroke="#000" stroke-width="4" />
<rect x="1175.4" y="670" width="92.8" height="119.1" fill="none" stroke="#ff0000" stroke-width="5.2" stroke-dasharray="5.4 7"/>
<line x1="1268.2" y1="732.5" x2="1607.0" y2="798.0" stroke="#ff0000" stroke-width="4.8" />
<text x="1509.0" y="1080.2" font-size="44.9" text-anchor="middle" fill="#000" >y = −(0.74±0.03)x − (1.29±0.08)</text>
<text x="1509.0" y="1128.6" font-size="44" text-anchor="middle" fill="#000" >R<tspan dy="-13.6" font-size="26.4">2</tspan><tspan dy="13.6"> = 0.9869</tspan></text>
<rect x="1606.7" y="680.9" width="289.7" height="235.3" fill="#fff" stroke="#ff0000" stroke-width="3.4" stroke-dasharray="3.4 5"/>
<line x1="1662.8" y1="696.0" x2="1662.8" y2="868.4" stroke="#000" stroke-width="2.2" />
<line x1="1662.8" y1="868.4" x2="1872.2" y2="868.4" stroke="#000" stroke-width="2.2" />
<line x1="1657.8" y1="696.0" x2="1662.8" y2="696.0" stroke="#000" stroke-width="2" />
<text x="1646.0" y="703.0" font-size="20" text-anchor="end" fill="#000" >0.0</text>
<line x1="1657.8" y1="753.5" x2="1662.8" y2="753.5" stroke="#000" stroke-width="2" />
<text x="1646.0" y="760.5" font-size="20" text-anchor="end" fill="#000" >-0.8</text>
<line x1="1657.8" y1="810.9" x2="1662.8" y2="810.9" stroke="#000" stroke-width="2" />
<text x="1646.0" y="817.9" font-size="20" text-anchor="end" fill="#000" >-1.6</text>
<line x1="1657.8" y1="868.4" x2="1662.8" y2="868.4" stroke="#000" stroke-width="2" />
<text x="1646.0" y="875.4" font-size="20" text-anchor="end" fill="#000" >-2.4</text>
<line x1="1662.8" y1="868.4" x2="1662.8" y2="873.4" stroke="#000" stroke-width="2" />
<text x="1662.8" y="898.6" font-size="20" text-anchor="middle" fill="#000" >0.0</text>
<line x1="1704.7" y1="868.4" x2="1704.7" y2="873.4" stroke="#000" stroke-width="2" />
<text x="1704.7" y="898.6" font-size="20" text-anchor="middle" fill="#000" >0.2</text>
<line x1="1746.6" y1="868.4" x2="1746.6" y2="873.4" stroke="#000" stroke-width="2" />
<text x="1746.6" y="898.6" font-size="20" text-anchor="middle" fill="#000" >0.4</text>
<line x1="1788.4" y1="868.4" x2="1788.4" y2="873.4" stroke="#000" stroke-width="2" />
<text x="1788.4" y="898.6" font-size="20" text-anchor="middle" fill="#000" >0.6</text>
<line x1="1830.3" y1="868.4" x2="1830.3" y2="873.4" stroke="#000" stroke-width="2" />
<text x="1830.3" y="898.6" font-size="20" text-anchor="middle" fill="#000" >0.8</text>
<line x1="1872.2" y1="868.4" x2="1872.2" y2="873.4" stroke="#000" stroke-width="2" />
<text x="1872.2" y="898.6" font-size="20" text-anchor="middle" fill="#000" >1.0</text>
<line x1="1673.3" y1="714.7" x2="1872.2" y2="845.4" stroke="#000" stroke-width="2" />
<circle cx="1673.3" cy="716.0" r="4" fill="none" stroke="#000" stroke-width="1.9"/>
<line x1="1673.3" y1="713.5" x2="1673.3" y2="718.5" stroke="#444" stroke-width="1.2" />
<circle cx="1683.7" cy="719.7" r="4" fill="none" stroke="#000" stroke-width="1.9"/>
<line x1="1683.7" y1="717.2" x2="1683.7" y2="722.2" stroke="#444" stroke-width="1.2" />
<circle cx="1694.2" cy="726.2" r="4" fill="none" stroke="#000" stroke-width="1.9"/>
<line x1="1694.2" y1="723.7" x2="1694.2" y2="728.7" stroke="#444" stroke-width="1.2" />
<circle cx="1704.7" cy="731.2" r="4" fill="none" stroke="#000" stroke-width="1.9"/>
<line x1="1704.7" y1="728.7" x2="1704.7" y2="733.7" stroke="#444" stroke-width="1.2" />
<circle cx="1725.6" cy="747.0" r="4" fill="none" stroke="#000" stroke-width="1.9"/>
<line x1="1725.6" y1="744.5" x2="1725.6" y2="749.5" stroke="#444" stroke-width="1.2" />
<circle cx="1746.6" cy="758.5" r="4" fill="none" stroke="#000" stroke-width="1.9"/>
<line x1="1746.6" y1="756.0" x2="1746.6" y2="761.0" stroke="#444" stroke-width="1.2" />
<circle cx="1767.5" cy="775.7" r="4" fill="none" stroke="#000" stroke-width="1.9"/>
<line x1="1767.5" y1="773.2" x2="1767.5" y2="778.2" stroke="#444" stroke-width="1.2" />
<circle cx="1788.4" cy="791.5" r="4" fill="none" stroke="#000" stroke-width="1.9"/>
<line x1="1788.4" y1="789.0" x2="1788.4" y2="794.0" stroke="#444" stroke-width="1.2" />
<circle cx="1809.4" cy="806.6" r="4" fill="none" stroke="#000" stroke-width="1.9"/>
<line x1="1809.4" y1="804.1" x2="1809.4" y2="809.1" stroke="#444" stroke-width="1.2" />
<circle cx="1830.3" cy="823.9" r="4" fill="none" stroke="#000" stroke-width="1.9"/>
<line x1="1830.3" y1="821.4" x2="1830.3" y2="826.4" stroke="#444" stroke-width="1.2" />
<circle cx="1872.2" cy="843.3" r="4" fill="none" stroke="#000" stroke-width="1.9"/>
<line x1="1872.2" y1="840.8" x2="1872.2" y2="845.8" stroke="#444" stroke-width="1.2" />
<text x="1739.0" y="721.1" font-size="26.8" text-anchor="start" fill="#000" >R<tspan dy="-8.3" font-size="16.1">2</tspan><tspan dy="8.3"> = 0.9965</tspan></text>
<rect x="684.1" y="1451.5" width="19.5" height="122.2" fill="#bfbfbf"/>
<rect x="709.2" y="1451.5" width="19.5" height="110.1" fill="#a6a6a6"/>
<rect x="734.3" y="1451.5" width="19.5" height="106.1" fill="#7f7f7f"/>
<rect x="759.4" y="1451.5" width="19.5" height="121.6" fill="#767171"/>
<rect x="784.5" y="1451.5" width="19.5" height="114.7" fill="#3b3838"/>
<rect x="809.6" y="1451.5" width="19.5" height="121.6" fill="#262626"/>
<rect x="872.2" y="1451.5" width="19.5" height="212.3" fill="#bfbfbf"/>
<rect x="897.3" y="1451.5" width="19.5" height="187.2" fill="#a6a6a6"/>
<rect x="922.4" y="1451.5" width="19.5" height="204.0" fill="#7f7f7f"/>
<rect x="947.5" y="1451.5" width="19.5" height="224.9" fill="#767171"/>
<rect x="972.6" y="1451.5" width="19.5" height="193.5" fill="#3b3838"/>
<rect x="997.7" y="1451.5" width="19.5" height="198.3" fill="#262626"/>
<rect x="1060.3" y="1451.5" width="19.5" height="310.7" fill="#bfbfbf"/>
<rect x="1085.4" y="1451.5" width="19.5" height="277.8" fill="#a6a6a6"/>
<rect x="1110.5" y="1451.5" width="19.5" height="282.9" fill="#7f7f7f"/>
<rect x="1135.6" y="1451.5" width="19.5" height="323.2" fill="#767171"/>
<rect x="1160.7" y="1451.5" width="19.5" height="305.0" fill="#3b3838"/>
<rect x="1185.8" y="1451.5" width="19.5" height="315.9" fill="#262626"/>
<rect x="1248.4" y="1451.5" width="19.5" height="431.3" fill="#bfbfbf"/>
<rect x="1273.5" y="1451.5" width="19.5" height="415.0" fill="#a6a6a6"/>
<rect x="1298.6" y="1451.5" width="19.5" height="380.5" fill="#7f7f7f"/>
<rect x="1323.7" y="1451.5" width="19.5" height="436.4" fill="#767171"/>
<rect x="1348.8" y="1451.5" width="19.5" height="388.2" fill="#3b3838"/>
<rect x="1373.9" y="1451.5" width="19.5" height="384.0" fill="#262626"/>
<line x1="650.0" y1="1451.5" x2="1414.8" y2="1451.5" stroke="#000" stroke-width="3.6" />
<line x1="692.9" y1="1602.5" x2="815.1" y2="1602.5" stroke="#c00000" stroke-width="3.6" />
<path d="M680.9,1602.5 L696.4,1595.0 L696.4,1610.0 Z M827.1,1602.5 L811.6,1595.0 L811.6,1610.0 Z" fill="#c00000"/>
<text x="754.8" y="1641.7" font-size="29.8" text-anchor="middle" fill="#c00000" >RSD = 5.5%</text>
<line x1="888.6" y1="1695.8" x2="1010.1" y2="1695.8" stroke="#c00000" stroke-width="3.6" />
<path d="M876.6,1695.8 L892.1,1688.3 L892.1,1703.3 Z M1022.1,1695.8 L1006.6,1688.3 L1006.6,1703.3 Z" fill="#c00000"/>
<text x="956.7" y="1739.2" font-size="29.8" text-anchor="middle" fill="#c00000" >RSD = 6.1%</text>
<line x1="1073.0" y1="1795.8" x2="1194.8" y2="1795.8" stroke="#c00000" stroke-width="3.6" />
<path d="M1061.0,1795.8 L1076.5,1788.3 L1076.5,1803.3 Z M1206.8,1795.8 L1191.3,1788.3 L1191.3,1803.3 Z" fill="#c00000"/>
<text x="1141.2" y="1839.7" font-size="29.8" text-anchor="middle" fill="#c00000" >RSD = 5.4%</text>
<line x1="1263.8" y1="1903.1" x2="1384.7" y2="1903.1" stroke="#c00000" stroke-width="3.6" />
<path d="M1251.8,1903.1 L1267.3,1895.6 L1267.3,1910.6 Z M1396.7,1903.1 L1381.2,1895.6 L1381.2,1910.6 Z" fill="#c00000"/>
<text x="1326.9" y="1945.0" font-size="29.8" text-anchor="middle" fill="#c00000" >RSD = 5.7%</text>
<rect x="718" y="1676.8" width="17.6" height="17" fill="#bfbfbf"/>
<text x="742.1" y="1695.8" font-size="33.9" text-anchor="start" fill="#000" >iGPE1</text>
<rect x="718" y="1723.5" width="17.6" height="17" fill="#a6a6a6"/>
<text x="742.1" y="1742.5" font-size="33.9" text-anchor="start" fill="#000" >iGPE2</text>
<rect x="718" y="1770.2" width="17.6" height="17" fill="#7f7f7f"/>
<text x="742.1" y="1789.2" font-size="33.9" text-anchor="start" fill="#000" >iGPE3</text>
<rect x="718" y="1817.0" width="17.6" height="17" fill="#767171"/>
<text x="742.1" y="1836.0" font-size="33.9" text-anchor="start" fill="#000" >iGPE4</text>
<rect x="718" y="1863.7" width="17.6" height="17" fill="#3b3838"/>
<text x="742.1" y="1882.7" font-size="33.9" text-anchor="start" fill="#000" >iGPE5</text>
<rect x="718" y="1910.4" width="17.6" height="17" fill="#262626"/>
<text x="742.1" y="1929.4" font-size="33.9" text-anchor="start" fill="#000" >iGPE6</text>
</svg></body></html>
